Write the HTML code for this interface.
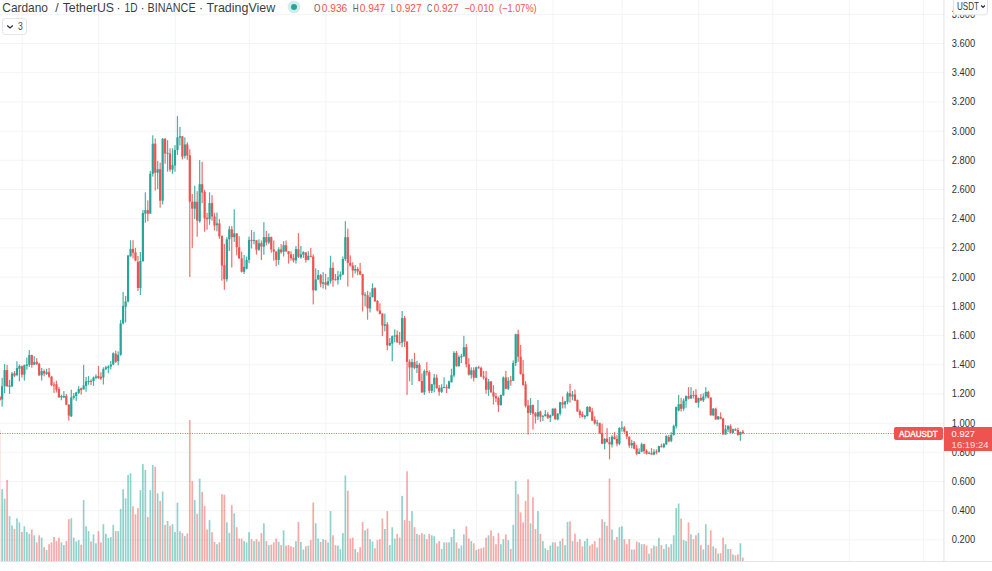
<!DOCTYPE html><html><head><meta charset="utf-8"><title>ADAUSDT</title>
<style>html,body{margin:0;padding:0;background:#fff;overflow:hidden}svg{display:block}text{font-family:"Liberation Sans",sans-serif}</style></head><body>
<svg width="992" height="571" viewBox="0 0 992 571">
<rect width="992" height="571" fill="#fff"/>
<g stroke="#f3f4f5" stroke-width="1" shape-rendering="crispEdges">
<line x1="22.20" y1="0" x2="22.20" y2="561" shape-rendering="auto"/>
<line x1="98.74" y1="0" x2="98.74" y2="561" shape-rendering="auto"/>
<line x1="175.28" y1="0" x2="175.28" y2="561" shape-rendering="auto"/>
<line x1="249.35" y1="0" x2="249.35" y2="561" shape-rendering="auto"/>
<line x1="325.89" y1="0" x2="325.89" y2="561" shape-rendering="auto"/>
<line x1="399.96" y1="0" x2="399.96" y2="561" shape-rendering="auto"/>
<line x1="476.50" y1="0" x2="476.50" y2="561" shape-rendering="auto"/>
<line x1="553.03" y1="0" x2="553.03" y2="561" shape-rendering="auto"/>
<line x1="622.17" y1="0" x2="622.17" y2="561" shape-rendering="auto"/>
<line x1="698.71" y1="0" x2="698.71" y2="561" shape-rendering="auto"/>
<line x1="772.78" y1="0" x2="772.78" y2="561" shape-rendering="auto"/>
<line x1="849.31" y1="0" x2="849.31" y2="561" shape-rendering="auto"/>
<line x1="923.38" y1="0" x2="923.38" y2="561" shape-rendering="auto"/>
<line x1="0" y1="539.90" x2="944" y2="539.90" shape-rendering="auto"/>
<line x1="0" y1="510.70" x2="944" y2="510.70" shape-rendering="auto"/>
<line x1="0" y1="481.50" x2="944" y2="481.50" shape-rendering="auto"/>
<line x1="0" y1="452.30" x2="944" y2="452.30" shape-rendering="auto"/>
<line x1="0" y1="423.10" x2="944" y2="423.10" shape-rendering="auto"/>
<line x1="0" y1="393.90" x2="944" y2="393.90" shape-rendering="auto"/>
<line x1="0" y1="364.70" x2="944" y2="364.70" shape-rendering="auto"/>
<line x1="0" y1="335.50" x2="944" y2="335.50" shape-rendering="auto"/>
<line x1="0" y1="306.30" x2="944" y2="306.30" shape-rendering="auto"/>
<line x1="0" y1="277.10" x2="944" y2="277.10" shape-rendering="auto"/>
<line x1="0" y1="247.90" x2="944" y2="247.90" shape-rendering="auto"/>
<line x1="0" y1="218.70" x2="944" y2="218.70" shape-rendering="auto"/>
<line x1="0" y1="189.50" x2="944" y2="189.50" shape-rendering="auto"/>
<line x1="0" y1="160.30" x2="944" y2="160.30" shape-rendering="auto"/>
<line x1="0" y1="131.10" x2="944" y2="131.10" shape-rendering="auto"/>
<line x1="0" y1="101.90" x2="944" y2="101.90" shape-rendering="auto"/>
<line x1="0" y1="72.70" x2="944" y2="72.70" shape-rendering="auto"/>
<line x1="0" y1="43.50" x2="944" y2="43.50" shape-rendering="auto"/>
<line x1="0" y1="14.30" x2="944" y2="14.30" shape-rendering="auto"/>
</g>
<g id="vol" shape-rendering="auto">
<rect x="-1.17" y="430.0" width="1.7" height="131.4" fill="#ef5350" opacity="0.25"/>
<rect x="1.30" y="489.2" width="1.7" height="72.2" fill="#26a69a" opacity="0.5"/>
<rect x="3.77" y="498.6" width="1.7" height="62.8" fill="#26a69a" opacity="0.5"/>
<rect x="6.24" y="479.9" width="1.7" height="81.5" fill="#ef5350" opacity="0.5"/>
<rect x="8.71" y="516.1" width="1.7" height="45.3" fill="#26a69a" opacity="0.5"/>
<rect x="11.17" y="525.4" width="1.7" height="36.0" fill="#26a69a" opacity="0.5"/>
<rect x="13.64" y="529.0" width="1.7" height="32.4" fill="#ef5350" opacity="0.5"/>
<rect x="16.11" y="518.3" width="1.7" height="43.1" fill="#26a69a" opacity="0.5"/>
<rect x="18.58" y="522.4" width="1.7" height="39.0" fill="#26a69a" opacity="0.5"/>
<rect x="21.05" y="532.0" width="1.7" height="29.4" fill="#ef5350" opacity="0.5"/>
<rect x="23.52" y="526.3" width="1.7" height="35.1" fill="#26a69a" opacity="0.5"/>
<rect x="25.99" y="532.0" width="1.7" height="29.4" fill="#26a69a" opacity="0.5"/>
<rect x="28.46" y="533.8" width="1.7" height="27.6" fill="#26a69a" opacity="0.5"/>
<rect x="30.93" y="529.5" width="1.7" height="31.9" fill="#ef5350" opacity="0.5"/>
<rect x="33.39" y="535.3" width="1.7" height="26.1" fill="#26a69a" opacity="0.5"/>
<rect x="35.86" y="542.4" width="1.7" height="19.0" fill="#ef5350" opacity="0.5"/>
<rect x="38.33" y="535.3" width="1.7" height="26.1" fill="#ef5350" opacity="0.5"/>
<rect x="40.80" y="537.6" width="1.7" height="23.8" fill="#26a69a" opacity="0.5"/>
<rect x="43.27" y="547.2" width="1.7" height="14.2" fill="#ef5350" opacity="0.5"/>
<rect x="45.74" y="550.1" width="1.7" height="11.3" fill="#26a69a" opacity="0.5"/>
<rect x="48.21" y="544.2" width="1.7" height="17.2" fill="#ef5350" opacity="0.5"/>
<rect x="50.68" y="542.4" width="1.7" height="19.0" fill="#ef5350" opacity="0.5"/>
<rect x="53.15" y="537.0" width="1.7" height="24.4" fill="#ef5350" opacity="0.5"/>
<rect x="55.62" y="541.1" width="1.7" height="20.3" fill="#ef5350" opacity="0.5"/>
<rect x="58.08" y="537.6" width="1.7" height="23.8" fill="#ef5350" opacity="0.5"/>
<rect x="60.55" y="542.4" width="1.7" height="19.0" fill="#26a69a" opacity="0.5"/>
<rect x="63.02" y="545.1" width="1.7" height="16.3" fill="#26a69a" opacity="0.5"/>
<rect x="65.49" y="541.0" width="1.7" height="20.4" fill="#ef5350" opacity="0.5"/>
<rect x="67.96" y="519.2" width="1.7" height="42.2" fill="#ef5350" opacity="0.5"/>
<rect x="70.43" y="518.3" width="1.7" height="43.1" fill="#26a69a" opacity="0.5"/>
<rect x="72.90" y="537.6" width="1.7" height="23.8" fill="#26a69a" opacity="0.5"/>
<rect x="75.37" y="541.5" width="1.7" height="19.9" fill="#26a69a" opacity="0.5"/>
<rect x="77.84" y="540.1" width="1.7" height="21.3" fill="#26a69a" opacity="0.5"/>
<rect x="80.31" y="544.7" width="1.7" height="16.7" fill="#ef5350" opacity="0.5"/>
<rect x="82.78" y="500.1" width="1.7" height="61.3" fill="#26a69a" opacity="0.5"/>
<rect x="85.24" y="526.3" width="1.7" height="35.1" fill="#26a69a" opacity="0.5"/>
<rect x="87.71" y="531.1" width="1.7" height="30.3" fill="#26a69a" opacity="0.5"/>
<rect x="90.18" y="541.5" width="1.7" height="19.9" fill="#ef5350" opacity="0.5"/>
<rect x="92.65" y="534.4" width="1.7" height="27.0" fill="#26a69a" opacity="0.5"/>
<rect x="95.12" y="543.3" width="1.7" height="18.1" fill="#26a69a" opacity="0.5"/>
<rect x="97.59" y="531.1" width="1.7" height="30.3" fill="#ef5350" opacity="0.5"/>
<rect x="100.06" y="542.4" width="1.7" height="19.0" fill="#ef5350" opacity="0.5"/>
<rect x="102.53" y="524.2" width="1.7" height="37.2" fill="#26a69a" opacity="0.5"/>
<rect x="105.00" y="533.8" width="1.7" height="27.6" fill="#26a69a" opacity="0.5"/>
<rect x="107.47" y="537.9" width="1.7" height="23.5" fill="#26a69a" opacity="0.5"/>
<rect x="109.93" y="537.0" width="1.7" height="24.4" fill="#26a69a" opacity="0.5"/>
<rect x="112.40" y="524.9" width="1.7" height="36.5" fill="#26a69a" opacity="0.5"/>
<rect x="114.87" y="531.1" width="1.7" height="30.3" fill="#ef5350" opacity="0.5"/>
<rect x="117.34" y="531.1" width="1.7" height="30.3" fill="#26a69a" opacity="0.5"/>
<rect x="119.81" y="509.0" width="1.7" height="52.4" fill="#26a69a" opacity="0.5"/>
<rect x="122.28" y="489.2" width="1.7" height="72.2" fill="#26a69a" opacity="0.5"/>
<rect x="124.75" y="498.3" width="1.7" height="63.1" fill="#26a69a" opacity="0.5"/>
<rect x="127.22" y="474.9" width="1.7" height="86.5" fill="#26a69a" opacity="0.5"/>
<rect x="129.69" y="473.3" width="1.7" height="88.1" fill="#26a69a" opacity="0.5"/>
<rect x="132.16" y="506.3" width="1.7" height="55.1" fill="#ef5350" opacity="0.5"/>
<rect x="134.62" y="514.3" width="1.7" height="47.1" fill="#ef5350" opacity="0.5"/>
<rect x="137.09" y="508.1" width="1.7" height="53.3" fill="#ef5350" opacity="0.5"/>
<rect x="139.56" y="490.1" width="1.7" height="71.3" fill="#26a69a" opacity="0.5"/>
<rect x="142.03" y="464.1" width="1.7" height="97.3" fill="#26a69a" opacity="0.5"/>
<rect x="144.50" y="470.0" width="1.7" height="91.4" fill="#26a69a" opacity="0.5"/>
<rect x="146.97" y="517.0" width="1.7" height="44.4" fill="#ef5350" opacity="0.5"/>
<rect x="149.44" y="490.1" width="1.7" height="71.3" fill="#26a69a" opacity="0.5"/>
<rect x="151.91" y="465.0" width="1.7" height="96.4" fill="#26a69a" opacity="0.5"/>
<rect x="154.38" y="466.8" width="1.7" height="94.6" fill="#ef5350" opacity="0.5"/>
<rect x="156.84" y="493.3" width="1.7" height="68.1" fill="#26a69a" opacity="0.5"/>
<rect x="159.31" y="500.9" width="1.7" height="60.5" fill="#ef5350" opacity="0.5"/>
<rect x="161.78" y="491.5" width="1.7" height="69.9" fill="#26a69a" opacity="0.5"/>
<rect x="164.25" y="524.9" width="1.7" height="36.5" fill="#ef5350" opacity="0.5"/>
<rect x="166.72" y="521.0" width="1.7" height="40.4" fill="#26a69a" opacity="0.5"/>
<rect x="169.19" y="525.8" width="1.7" height="35.6" fill="#ef5350" opacity="0.5"/>
<rect x="171.66" y="524.2" width="1.7" height="37.2" fill="#26a69a" opacity="0.5"/>
<rect x="174.13" y="532.0" width="1.7" height="29.4" fill="#26a69a" opacity="0.5"/>
<rect x="176.60" y="502.7" width="1.7" height="58.7" fill="#26a69a" opacity="0.5"/>
<rect x="179.07" y="531.3" width="1.7" height="30.1" fill="#26a69a" opacity="0.5"/>
<rect x="181.53" y="533.1" width="1.7" height="28.3" fill="#ef5350" opacity="0.5"/>
<rect x="184.00" y="536.1" width="1.7" height="25.3" fill="#26a69a" opacity="0.5"/>
<rect x="186.47" y="533.5" width="1.7" height="27.9" fill="#ef5350" opacity="0.5"/>
<rect x="188.94" y="420.0" width="1.7" height="141.4" fill="#ef5350" opacity="0.5"/>
<rect x="191.41" y="481.1" width="1.7" height="80.3" fill="#ef5350" opacity="0.5"/>
<rect x="193.88" y="500.1" width="1.7" height="61.3" fill="#26a69a" opacity="0.5"/>
<rect x="196.35" y="513.8" width="1.7" height="47.6" fill="#ef5350" opacity="0.5"/>
<rect x="198.82" y="478.6" width="1.7" height="82.8" fill="#26a69a" opacity="0.5"/>
<rect x="201.29" y="492.0" width="1.7" height="69.4" fill="#ef5350" opacity="0.5"/>
<rect x="203.76" y="505.8" width="1.7" height="55.6" fill="#ef5350" opacity="0.5"/>
<rect x="206.22" y="529.5" width="1.7" height="31.9" fill="#ef5350" opacity="0.5"/>
<rect x="208.69" y="520.1" width="1.7" height="41.3" fill="#26a69a" opacity="0.5"/>
<rect x="211.16" y="532.2" width="1.7" height="29.2" fill="#ef5350" opacity="0.5"/>
<rect x="213.63" y="541.9" width="1.7" height="19.5" fill="#ef5350" opacity="0.5"/>
<rect x="216.10" y="544.2" width="1.7" height="17.2" fill="#26a69a" opacity="0.5"/>
<rect x="218.57" y="542.4" width="1.7" height="19.0" fill="#ef5350" opacity="0.5"/>
<rect x="221.04" y="494.2" width="1.7" height="67.2" fill="#ef5350" opacity="0.5"/>
<rect x="223.51" y="494.7" width="1.7" height="66.7" fill="#ef5350" opacity="0.5"/>
<rect x="225.98" y="522.4" width="1.7" height="39.0" fill="#26a69a" opacity="0.5"/>
<rect x="228.45" y="532.9" width="1.7" height="28.5" fill="#26a69a" opacity="0.5"/>
<rect x="230.91" y="505.2" width="1.7" height="56.2" fill="#ef5350" opacity="0.5"/>
<rect x="233.38" y="513.3" width="1.7" height="48.1" fill="#26a69a" opacity="0.5"/>
<rect x="235.85" y="527.2" width="1.7" height="34.2" fill="#ef5350" opacity="0.5"/>
<rect x="238.32" y="538.5" width="1.7" height="22.9" fill="#ef5350" opacity="0.5"/>
<rect x="240.79" y="538.5" width="1.7" height="22.9" fill="#ef5350" opacity="0.5"/>
<rect x="243.26" y="541.1" width="1.7" height="20.3" fill="#26a69a" opacity="0.5"/>
<rect x="245.73" y="542.4" width="1.7" height="19.0" fill="#26a69a" opacity="0.5"/>
<rect x="248.20" y="532.2" width="1.7" height="29.2" fill="#26a69a" opacity="0.5"/>
<rect x="250.67" y="539.2" width="1.7" height="22.2" fill="#ef5350" opacity="0.5"/>
<rect x="253.14" y="541.1" width="1.7" height="20.3" fill="#26a69a" opacity="0.5"/>
<rect x="255.60" y="539.2" width="1.7" height="22.2" fill="#ef5350" opacity="0.5"/>
<rect x="258.07" y="541.5" width="1.7" height="19.9" fill="#26a69a" opacity="0.5"/>
<rect x="260.54" y="533.1" width="1.7" height="28.3" fill="#ef5350" opacity="0.5"/>
<rect x="263.01" y="523.3" width="1.7" height="38.1" fill="#26a69a" opacity="0.5"/>
<rect x="265.48" y="541.1" width="1.7" height="20.3" fill="#ef5350" opacity="0.5"/>
<rect x="267.95" y="545.1" width="1.7" height="16.3" fill="#26a69a" opacity="0.5"/>
<rect x="270.42" y="544.7" width="1.7" height="16.7" fill="#ef5350" opacity="0.5"/>
<rect x="272.89" y="542.4" width="1.7" height="19.0" fill="#ef5350" opacity="0.5"/>
<rect x="275.36" y="538.5" width="1.7" height="22.9" fill="#ef5350" opacity="0.5"/>
<rect x="277.83" y="541.9" width="1.7" height="19.5" fill="#26a69a" opacity="0.5"/>
<rect x="280.29" y="545.1" width="1.7" height="16.3" fill="#ef5350" opacity="0.5"/>
<rect x="282.76" y="530.3" width="1.7" height="31.1" fill="#26a69a" opacity="0.5"/>
<rect x="285.23" y="545.6" width="1.7" height="15.8" fill="#ef5350" opacity="0.5"/>
<rect x="287.70" y="545.1" width="1.7" height="16.3" fill="#ef5350" opacity="0.5"/>
<rect x="290.17" y="546.3" width="1.7" height="15.1" fill="#ef5350" opacity="0.5"/>
<rect x="292.64" y="547.2" width="1.7" height="14.2" fill="#ef5350" opacity="0.5"/>
<rect x="295.11" y="541.1" width="1.7" height="20.3" fill="#26a69a" opacity="0.5"/>
<rect x="297.58" y="521.9" width="1.7" height="39.5" fill="#ef5350" opacity="0.5"/>
<rect x="300.05" y="541.9" width="1.7" height="19.5" fill="#26a69a" opacity="0.5"/>
<rect x="302.52" y="549.5" width="1.7" height="11.9" fill="#26a69a" opacity="0.5"/>
<rect x="304.98" y="546.3" width="1.7" height="15.1" fill="#ef5350" opacity="0.5"/>
<rect x="307.45" y="545.6" width="1.7" height="15.8" fill="#26a69a" opacity="0.5"/>
<rect x="309.92" y="540.1" width="1.7" height="21.3" fill="#ef5350" opacity="0.5"/>
<rect x="312.39" y="502.6" width="1.7" height="58.8" fill="#ef5350" opacity="0.5"/>
<rect x="314.86" y="523.3" width="1.7" height="38.1" fill="#26a69a" opacity="0.5"/>
<rect x="317.33" y="538.5" width="1.7" height="22.9" fill="#26a69a" opacity="0.5"/>
<rect x="319.80" y="542.0" width="1.7" height="19.4" fill="#ef5350" opacity="0.5"/>
<rect x="322.27" y="539.2" width="1.7" height="22.2" fill="#26a69a" opacity="0.5"/>
<rect x="324.74" y="540.1" width="1.7" height="21.3" fill="#ef5350" opacity="0.5"/>
<rect x="327.21" y="542.4" width="1.7" height="19.0" fill="#26a69a" opacity="0.5"/>
<rect x="329.67" y="511.1" width="1.7" height="50.3" fill="#26a69a" opacity="0.5"/>
<rect x="332.14" y="535.3" width="1.7" height="26.1" fill="#ef5350" opacity="0.5"/>
<rect x="334.61" y="545.1" width="1.7" height="16.3" fill="#ef5350" opacity="0.5"/>
<rect x="337.08" y="545.6" width="1.7" height="15.8" fill="#26a69a" opacity="0.5"/>
<rect x="339.55" y="549.2" width="1.7" height="12.2" fill="#26a69a" opacity="0.5"/>
<rect x="342.02" y="533.1" width="1.7" height="28.3" fill="#26a69a" opacity="0.5"/>
<rect x="344.49" y="475.4" width="1.7" height="86.0" fill="#26a69a" opacity="0.5"/>
<rect x="346.96" y="490.6" width="1.7" height="70.8" fill="#ef5350" opacity="0.5"/>
<rect x="349.43" y="538.5" width="1.7" height="22.9" fill="#ef5350" opacity="0.5"/>
<rect x="351.90" y="537.6" width="1.7" height="23.8" fill="#ef5350" opacity="0.5"/>
<rect x="354.36" y="549.0" width="1.7" height="12.4" fill="#26a69a" opacity="0.5"/>
<rect x="356.83" y="552.2" width="1.7" height="9.2" fill="#ef5350" opacity="0.5"/>
<rect x="359.30" y="547.2" width="1.7" height="14.2" fill="#ef5350" opacity="0.5"/>
<rect x="361.77" y="521.9" width="1.7" height="39.5" fill="#ef5350" opacity="0.5"/>
<rect x="364.24" y="530.3" width="1.7" height="31.1" fill="#26a69a" opacity="0.5"/>
<rect x="366.71" y="528.5" width="1.7" height="32.9" fill="#ef5350" opacity="0.5"/>
<rect x="369.18" y="539.2" width="1.7" height="22.2" fill="#26a69a" opacity="0.5"/>
<rect x="371.65" y="541.5" width="1.7" height="19.9" fill="#26a69a" opacity="0.5"/>
<rect x="374.12" y="548.3" width="1.7" height="13.1" fill="#ef5350" opacity="0.5"/>
<rect x="376.59" y="540.1" width="1.7" height="21.3" fill="#ef5350" opacity="0.5"/>
<rect x="379.05" y="539.2" width="1.7" height="22.2" fill="#ef5350" opacity="0.5"/>
<rect x="381.52" y="518.6" width="1.7" height="42.8" fill="#ef5350" opacity="0.5"/>
<rect x="383.99" y="529.0" width="1.7" height="32.4" fill="#26a69a" opacity="0.5"/>
<rect x="386.46" y="511.1" width="1.7" height="50.3" fill="#ef5350" opacity="0.5"/>
<rect x="388.93" y="545.1" width="1.7" height="16.3" fill="#26a69a" opacity="0.5"/>
<rect x="391.40" y="527.2" width="1.7" height="34.2" fill="#26a69a" opacity="0.5"/>
<rect x="393.87" y="538.5" width="1.7" height="22.9" fill="#26a69a" opacity="0.5"/>
<rect x="396.34" y="533.8" width="1.7" height="27.6" fill="#ef5350" opacity="0.5"/>
<rect x="398.81" y="537.6" width="1.7" height="23.8" fill="#ef5350" opacity="0.5"/>
<rect x="401.28" y="495.9" width="1.7" height="65.5" fill="#26a69a" opacity="0.5"/>
<rect x="403.74" y="520.1" width="1.7" height="41.3" fill="#ef5350" opacity="0.5"/>
<rect x="406.21" y="471.3" width="1.7" height="90.1" fill="#ef5350" opacity="0.5"/>
<rect x="408.68" y="521.0" width="1.7" height="40.4" fill="#ef5350" opacity="0.5"/>
<rect x="411.15" y="511.1" width="1.7" height="50.3" fill="#26a69a" opacity="0.5"/>
<rect x="413.62" y="527.2" width="1.7" height="34.2" fill="#ef5350" opacity="0.5"/>
<rect x="416.09" y="533.8" width="1.7" height="27.6" fill="#26a69a" opacity="0.5"/>
<rect x="418.56" y="534.9" width="1.7" height="26.5" fill="#ef5350" opacity="0.5"/>
<rect x="421.03" y="533.1" width="1.7" height="28.3" fill="#ef5350" opacity="0.5"/>
<rect x="423.50" y="534.4" width="1.7" height="27.0" fill="#26a69a" opacity="0.5"/>
<rect x="425.97" y="539.2" width="1.7" height="22.2" fill="#ef5350" opacity="0.5"/>
<rect x="428.43" y="533.8" width="1.7" height="27.6" fill="#ef5350" opacity="0.5"/>
<rect x="430.90" y="535.3" width="1.7" height="26.1" fill="#26a69a" opacity="0.5"/>
<rect x="433.37" y="536.1" width="1.7" height="25.3" fill="#26a69a" opacity="0.5"/>
<rect x="435.84" y="543.3" width="1.7" height="18.1" fill="#ef5350" opacity="0.5"/>
<rect x="438.31" y="541.1" width="1.7" height="20.3" fill="#ef5350" opacity="0.5"/>
<rect x="440.78" y="549.0" width="1.7" height="12.4" fill="#26a69a" opacity="0.5"/>
<rect x="443.25" y="542.4" width="1.7" height="19.0" fill="#26a69a" opacity="0.5"/>
<rect x="445.72" y="542.4" width="1.7" height="19.0" fill="#ef5350" opacity="0.5"/>
<rect x="448.19" y="542.4" width="1.7" height="19.0" fill="#26a69a" opacity="0.5"/>
<rect x="450.66" y="537.0" width="1.7" height="24.4" fill="#26a69a" opacity="0.5"/>
<rect x="453.12" y="529.0" width="1.7" height="32.4" fill="#26a69a" opacity="0.5"/>
<rect x="455.59" y="542.4" width="1.7" height="19.0" fill="#ef5350" opacity="0.5"/>
<rect x="458.06" y="548.3" width="1.7" height="13.1" fill="#26a69a" opacity="0.5"/>
<rect x="460.53" y="545.6" width="1.7" height="15.8" fill="#26a69a" opacity="0.5"/>
<rect x="463.00" y="534.4" width="1.7" height="27.0" fill="#26a69a" opacity="0.5"/>
<rect x="465.47" y="526.3" width="1.7" height="35.1" fill="#ef5350" opacity="0.5"/>
<rect x="467.94" y="538.5" width="1.7" height="22.9" fill="#ef5350" opacity="0.5"/>
<rect x="470.41" y="541.1" width="1.7" height="20.3" fill="#26a69a" opacity="0.5"/>
<rect x="472.88" y="543.3" width="1.7" height="18.1" fill="#ef5350" opacity="0.5"/>
<rect x="475.35" y="550.1" width="1.7" height="11.3" fill="#26a69a" opacity="0.5"/>
<rect x="477.81" y="549.0" width="1.7" height="12.4" fill="#ef5350" opacity="0.5"/>
<rect x="480.28" y="548.3" width="1.7" height="13.1" fill="#ef5350" opacity="0.5"/>
<rect x="482.75" y="547.4" width="1.7" height="14.0" fill="#ef5350" opacity="0.5"/>
<rect x="485.22" y="537.6" width="1.7" height="23.8" fill="#ef5350" opacity="0.5"/>
<rect x="487.69" y="535.3" width="1.7" height="26.1" fill="#26a69a" opacity="0.5"/>
<rect x="490.16" y="530.4" width="1.7" height="31.0" fill="#ef5350" opacity="0.5"/>
<rect x="492.63" y="536.1" width="1.7" height="25.3" fill="#ef5350" opacity="0.5"/>
<rect x="495.10" y="544.2" width="1.7" height="17.2" fill="#ef5350" opacity="0.5"/>
<rect x="497.57" y="533.1" width="1.7" height="28.3" fill="#ef5350" opacity="0.5"/>
<rect x="500.04" y="544.2" width="1.7" height="17.2" fill="#26a69a" opacity="0.5"/>
<rect x="502.50" y="539.2" width="1.7" height="22.2" fill="#26a69a" opacity="0.5"/>
<rect x="504.97" y="534.4" width="1.7" height="27.0" fill="#ef5350" opacity="0.5"/>
<rect x="507.44" y="540.1" width="1.7" height="21.3" fill="#26a69a" opacity="0.5"/>
<rect x="509.91" y="549.0" width="1.7" height="12.4" fill="#ef5350" opacity="0.5"/>
<rect x="512.38" y="524.9" width="1.7" height="36.5" fill="#26a69a" opacity="0.5"/>
<rect x="514.85" y="481.1" width="1.7" height="80.3" fill="#26a69a" opacity="0.5"/>
<rect x="517.32" y="494.2" width="1.7" height="67.2" fill="#ef5350" opacity="0.5"/>
<rect x="519.79" y="512.4" width="1.7" height="49.0" fill="#ef5350" opacity="0.5"/>
<rect x="522.26" y="522.4" width="1.7" height="39.0" fill="#ef5350" opacity="0.5"/>
<rect x="524.73" y="500.9" width="1.7" height="60.5" fill="#ef5350" opacity="0.5"/>
<rect x="527.19" y="479.3" width="1.7" height="82.1" fill="#ef5350" opacity="0.5"/>
<rect x="529.66" y="523.3" width="1.7" height="38.1" fill="#26a69a" opacity="0.5"/>
<rect x="532.13" y="497.2" width="1.7" height="64.2" fill="#ef5350" opacity="0.5"/>
<rect x="534.60" y="529.0" width="1.7" height="32.4" fill="#ef5350" opacity="0.5"/>
<rect x="537.07" y="511.1" width="1.7" height="50.3" fill="#26a69a" opacity="0.5"/>
<rect x="539.54" y="533.8" width="1.7" height="27.6" fill="#ef5350" opacity="0.5"/>
<rect x="542.01" y="541.1" width="1.7" height="20.3" fill="#26a69a" opacity="0.5"/>
<rect x="544.48" y="548.3" width="1.7" height="13.1" fill="#26a69a" opacity="0.5"/>
<rect x="546.95" y="550.1" width="1.7" height="11.3" fill="#ef5350" opacity="0.5"/>
<rect x="549.42" y="545.6" width="1.7" height="15.8" fill="#26a69a" opacity="0.5"/>
<rect x="551.88" y="542.4" width="1.7" height="19.0" fill="#26a69a" opacity="0.5"/>
<rect x="554.35" y="542.4" width="1.7" height="19.0" fill="#ef5350" opacity="0.5"/>
<rect x="556.82" y="546.3" width="1.7" height="15.1" fill="#26a69a" opacity="0.5"/>
<rect x="559.29" y="541.1" width="1.7" height="20.3" fill="#26a69a" opacity="0.5"/>
<rect x="561.76" y="538.5" width="1.7" height="22.9" fill="#ef5350" opacity="0.5"/>
<rect x="564.23" y="545.1" width="1.7" height="16.3" fill="#26a69a" opacity="0.5"/>
<rect x="566.70" y="521.9" width="1.7" height="39.5" fill="#26a69a" opacity="0.5"/>
<rect x="569.17" y="521.3" width="1.7" height="40.1" fill="#ef5350" opacity="0.5"/>
<rect x="571.64" y="541.1" width="1.7" height="20.3" fill="#26a69a" opacity="0.5"/>
<rect x="574.11" y="533.8" width="1.7" height="27.6" fill="#ef5350" opacity="0.5"/>
<rect x="576.57" y="541.9" width="1.7" height="19.5" fill="#ef5350" opacity="0.5"/>
<rect x="579.04" y="539.2" width="1.7" height="22.2" fill="#ef5350" opacity="0.5"/>
<rect x="581.51" y="546.3" width="1.7" height="15.1" fill="#ef5350" opacity="0.5"/>
<rect x="583.98" y="541.1" width="1.7" height="20.3" fill="#26a69a" opacity="0.5"/>
<rect x="586.45" y="538.5" width="1.7" height="22.9" fill="#26a69a" opacity="0.5"/>
<rect x="588.92" y="545.6" width="1.7" height="15.8" fill="#ef5350" opacity="0.5"/>
<rect x="591.39" y="544.2" width="1.7" height="17.2" fill="#ef5350" opacity="0.5"/>
<rect x="593.86" y="541.1" width="1.7" height="20.3" fill="#ef5350" opacity="0.5"/>
<rect x="596.33" y="547.4" width="1.7" height="14.0" fill="#26a69a" opacity="0.5"/>
<rect x="598.80" y="537.9" width="1.7" height="23.5" fill="#ef5350" opacity="0.5"/>
<rect x="601.26" y="519.2" width="1.7" height="42.2" fill="#ef5350" opacity="0.5"/>
<rect x="603.73" y="521.9" width="1.7" height="39.5" fill="#26a69a" opacity="0.5"/>
<rect x="606.20" y="525.8" width="1.7" height="35.6" fill="#ef5350" opacity="0.5"/>
<rect x="608.67" y="478.6" width="1.7" height="82.8" fill="#ef5350" opacity="0.5"/>
<rect x="611.14" y="529.5" width="1.7" height="31.9" fill="#26a69a" opacity="0.5"/>
<rect x="613.61" y="540.1" width="1.7" height="21.3" fill="#ef5350" opacity="0.5"/>
<rect x="616.08" y="537.0" width="1.7" height="24.4" fill="#ef5350" opacity="0.5"/>
<rect x="618.55" y="527.2" width="1.7" height="34.2" fill="#26a69a" opacity="0.5"/>
<rect x="621.02" y="526.3" width="1.7" height="35.1" fill="#26a69a" opacity="0.5"/>
<rect x="623.49" y="539.2" width="1.7" height="22.2" fill="#ef5350" opacity="0.5"/>
<rect x="625.95" y="544.2" width="1.7" height="17.2" fill="#ef5350" opacity="0.5"/>
<rect x="628.42" y="539.2" width="1.7" height="22.2" fill="#ef5350" opacity="0.5"/>
<rect x="630.89" y="549.5" width="1.7" height="11.9" fill="#26a69a" opacity="0.5"/>
<rect x="633.36" y="549.5" width="1.7" height="11.9" fill="#ef5350" opacity="0.5"/>
<rect x="635.83" y="541.5" width="1.7" height="19.9" fill="#ef5350" opacity="0.5"/>
<rect x="638.30" y="542.4" width="1.7" height="19.0" fill="#26a69a" opacity="0.5"/>
<rect x="640.77" y="544.2" width="1.7" height="17.2" fill="#26a69a" opacity="0.5"/>
<rect x="643.24" y="544.2" width="1.7" height="17.2" fill="#ef5350" opacity="0.5"/>
<rect x="645.71" y="545.6" width="1.7" height="15.8" fill="#ef5350" opacity="0.5"/>
<rect x="648.18" y="553.7" width="1.7" height="7.7" fill="#26a69a" opacity="0.5"/>
<rect x="650.64" y="548.3" width="1.7" height="13.1" fill="#ef5350" opacity="0.5"/>
<rect x="653.11" y="545.6" width="1.7" height="15.8" fill="#26a69a" opacity="0.5"/>
<rect x="655.58" y="546.3" width="1.7" height="15.1" fill="#ef5350" opacity="0.5"/>
<rect x="658.05" y="537.9" width="1.7" height="23.5" fill="#26a69a" opacity="0.5"/>
<rect x="660.52" y="545.1" width="1.7" height="16.3" fill="#ef5350" opacity="0.5"/>
<rect x="662.99" y="549.0" width="1.7" height="12.4" fill="#26a69a" opacity="0.5"/>
<rect x="665.46" y="544.2" width="1.7" height="17.2" fill="#26a69a" opacity="0.5"/>
<rect x="667.93" y="547.2" width="1.7" height="14.2" fill="#ef5350" opacity="0.5"/>
<rect x="670.40" y="544.2" width="1.7" height="17.2" fill="#26a69a" opacity="0.5"/>
<rect x="672.87" y="535.3" width="1.7" height="26.1" fill="#26a69a" opacity="0.5"/>
<rect x="675.33" y="508.1" width="1.7" height="53.3" fill="#26a69a" opacity="0.5"/>
<rect x="677.80" y="503.5" width="1.7" height="57.9" fill="#26a69a" opacity="0.5"/>
<rect x="680.27" y="518.6" width="1.7" height="42.8" fill="#ef5350" opacity="0.5"/>
<rect x="682.74" y="540.1" width="1.7" height="21.3" fill="#26a69a" opacity="0.5"/>
<rect x="685.21" y="541.1" width="1.7" height="20.3" fill="#26a69a" opacity="0.5"/>
<rect x="687.68" y="522.4" width="1.7" height="39.0" fill="#ef5350" opacity="0.5"/>
<rect x="690.15" y="534.4" width="1.7" height="27.0" fill="#26a69a" opacity="0.5"/>
<rect x="692.62" y="539.2" width="1.7" height="22.2" fill="#ef5350" opacity="0.5"/>
<rect x="695.09" y="535.3" width="1.7" height="26.1" fill="#ef5350" opacity="0.5"/>
<rect x="697.56" y="533.1" width="1.7" height="28.3" fill="#26a69a" opacity="0.5"/>
<rect x="700.02" y="545.1" width="1.7" height="16.3" fill="#ef5350" opacity="0.5"/>
<rect x="702.49" y="549.5" width="1.7" height="11.9" fill="#26a69a" opacity="0.5"/>
<rect x="704.96" y="524.2" width="1.7" height="37.2" fill="#26a69a" opacity="0.5"/>
<rect x="707.43" y="545.1" width="1.7" height="16.3" fill="#ef5350" opacity="0.5"/>
<rect x="709.90" y="530.3" width="1.7" height="31.1" fill="#ef5350" opacity="0.5"/>
<rect x="712.37" y="546.3" width="1.7" height="15.1" fill="#26a69a" opacity="0.5"/>
<rect x="714.84" y="548.3" width="1.7" height="13.1" fill="#ef5350" opacity="0.5"/>
<rect x="717.31" y="553.7" width="1.7" height="7.7" fill="#26a69a" opacity="0.5"/>
<rect x="719.78" y="553.1" width="1.7" height="8.3" fill="#ef5350" opacity="0.5"/>
<rect x="722.25" y="537.6" width="1.7" height="23.8" fill="#ef5350" opacity="0.5"/>
<rect x="724.71" y="544.2" width="1.7" height="17.2" fill="#26a69a" opacity="0.5"/>
<rect x="727.18" y="549.0" width="1.7" height="12.4" fill="#26a69a" opacity="0.5"/>
<rect x="729.65" y="549.0" width="1.7" height="12.4" fill="#ef5350" opacity="0.5"/>
<rect x="732.12" y="554.4" width="1.7" height="7.0" fill="#26a69a" opacity="0.5"/>
<rect x="734.59" y="555.3" width="1.7" height="6.1" fill="#ef5350" opacity="0.5"/>
<rect x="737.06" y="554.4" width="1.7" height="7.0" fill="#ef5350" opacity="0.5"/>
<rect x="739.53" y="543.3" width="1.7" height="18.1" fill="#26a69a" opacity="0.5"/>
<rect x="742.00" y="557.6" width="1.7" height="3.8" fill="#ef5350" opacity="0.5"/>
</g>
<g id="candles">
<rect x="-0.92" y="396.0" width="1.2" height="4.9" fill="#ef5350" opacity="0.85"/>
<rect x="-1.42" y="396.7" width="2.2" height="3.5" fill="#ef5350"/>
<rect x="1.55" y="377.8" width="1.2" height="28.7" fill="#26a69a" opacity="0.85"/>
<rect x="1.05" y="386.2" width="2.2" height="13.3" fill="#26a69a"/>
<rect x="4.02" y="364.1" width="1.2" height="29.1" fill="#26a69a" opacity="0.85"/>
<rect x="3.52" y="370.1" width="2.2" height="16.1" fill="#26a69a"/>
<rect x="6.49" y="364.9" width="1.2" height="22.0" fill="#ef5350" opacity="0.85"/>
<rect x="5.99" y="370.1" width="2.2" height="16.1" fill="#ef5350"/>
<rect x="8.96" y="379.9" width="1.2" height="14.0" fill="#26a69a" opacity="0.85"/>
<rect x="8.46" y="385.5" width="2.2" height="1.4" fill="#26a69a"/>
<rect x="11.42" y="371.9" width="1.2" height="15.4" fill="#26a69a" opacity="0.85"/>
<rect x="10.92" y="373.6" width="2.2" height="12.6" fill="#26a69a"/>
<rect x="13.89" y="371.1" width="1.2" height="6.0" fill="#ef5350" opacity="0.85"/>
<rect x="13.39" y="373.3" width="2.2" height="2.4" fill="#ef5350"/>
<rect x="16.36" y="361.3" width="1.2" height="14.9" fill="#26a69a" opacity="0.85"/>
<rect x="15.86" y="368.0" width="2.2" height="7.0" fill="#26a69a"/>
<rect x="18.83" y="364.5" width="1.2" height="16.8" fill="#26a69a" opacity="0.85"/>
<rect x="18.33" y="365.9" width="2.2" height="2.8" fill="#26a69a"/>
<rect x="21.30" y="365.5" width="1.2" height="12.0" fill="#ef5350" opacity="0.85"/>
<rect x="20.80" y="366.3" width="2.2" height="8.4" fill="#ef5350"/>
<rect x="23.77" y="364.5" width="1.2" height="16.1" fill="#26a69a" opacity="0.85"/>
<rect x="23.27" y="365.2" width="2.2" height="9.5" fill="#26a69a"/>
<rect x="26.24" y="357.5" width="1.2" height="12.2" fill="#26a69a" opacity="0.85"/>
<rect x="25.74" y="364.5" width="2.2" height="1.4" fill="#26a69a"/>
<rect x="28.71" y="350.1" width="1.2" height="16.8" fill="#26a69a" opacity="0.85"/>
<rect x="28.21" y="355.1" width="2.2" height="9.8" fill="#26a69a"/>
<rect x="31.18" y="354.7" width="1.2" height="13.0" fill="#ef5350" opacity="0.85"/>
<rect x="30.68" y="355.1" width="2.2" height="9.8" fill="#ef5350"/>
<rect x="33.64" y="356.1" width="1.2" height="9.1" fill="#26a69a" opacity="0.85"/>
<rect x="33.14" y="362.1" width="2.2" height="2.4" fill="#26a69a"/>
<rect x="36.11" y="358.2" width="1.2" height="6.7" fill="#ef5350" opacity="0.85"/>
<rect x="35.61" y="361.7" width="2.2" height="2.4" fill="#ef5350"/>
<rect x="38.58" y="362.7" width="1.2" height="13.2" fill="#ef5350" opacity="0.85"/>
<rect x="38.08" y="363.8" width="2.2" height="11.5" fill="#ef5350"/>
<rect x="41.05" y="368.0" width="1.2" height="12.6" fill="#26a69a" opacity="0.85"/>
<rect x="40.55" y="371.1" width="2.2" height="4.2" fill="#26a69a"/>
<rect x="43.52" y="369.4" width="1.2" height="7.0" fill="#ef5350" opacity="0.85"/>
<rect x="43.02" y="371.1" width="2.2" height="2.5" fill="#ef5350"/>
<rect x="45.99" y="368.7" width="1.2" height="6.3" fill="#26a69a" opacity="0.85"/>
<rect x="45.49" y="372.2" width="2.2" height="1.7" fill="#26a69a"/>
<rect x="48.46" y="368.0" width="1.2" height="9.8" fill="#ef5350" opacity="0.85"/>
<rect x="47.96" y="372.2" width="2.2" height="4.5" fill="#ef5350"/>
<rect x="50.93" y="375.7" width="1.2" height="10.5" fill="#ef5350" opacity="0.85"/>
<rect x="50.43" y="376.7" width="2.2" height="8.4" fill="#ef5350"/>
<rect x="53.40" y="382.0" width="1.2" height="10.9" fill="#ef5350" opacity="0.85"/>
<rect x="52.90" y="384.6" width="2.2" height="1.0" fill="#ef5350"/>
<rect x="55.87" y="380.6" width="1.2" height="11.9" fill="#ef5350" opacity="0.85"/>
<rect x="55.37" y="384.1" width="2.2" height="5.6" fill="#ef5350"/>
<rect x="58.33" y="386.9" width="1.2" height="10.8" fill="#ef5350" opacity="0.85"/>
<rect x="57.83" y="389.0" width="2.2" height="8.4" fill="#ef5350"/>
<rect x="60.80" y="394.6" width="1.2" height="5.6" fill="#26a69a" opacity="0.85"/>
<rect x="60.30" y="396.0" width="2.2" height="1.4" fill="#26a69a"/>
<rect x="63.27" y="391.1" width="1.2" height="7.0" fill="#26a69a" opacity="0.85"/>
<rect x="62.77" y="396.0" width="2.2" height="1.4" fill="#26a69a"/>
<rect x="65.74" y="393.9" width="1.2" height="11.2" fill="#ef5350" opacity="0.85"/>
<rect x="65.24" y="396.0" width="2.2" height="8.7" fill="#ef5350"/>
<rect x="68.21" y="404.2" width="1.2" height="16.4" fill="#ef5350" opacity="0.85"/>
<rect x="67.71" y="404.7" width="2.2" height="10.9" fill="#ef5350"/>
<rect x="70.68" y="389.7" width="1.2" height="27.3" fill="#26a69a" opacity="0.85"/>
<rect x="70.18" y="397.4" width="2.2" height="18.9" fill="#26a69a"/>
<rect x="73.15" y="393.0" width="1.2" height="6.6" fill="#26a69a" opacity="0.85"/>
<rect x="72.65" y="396.0" width="2.2" height="1.7" fill="#26a69a"/>
<rect x="75.62" y="391.8" width="1.2" height="9.1" fill="#26a69a" opacity="0.85"/>
<rect x="75.12" y="392.5" width="2.2" height="3.5" fill="#26a69a"/>
<rect x="78.09" y="386.2" width="1.2" height="7.7" fill="#26a69a" opacity="0.85"/>
<rect x="77.59" y="389.0" width="2.2" height="3.9" fill="#26a69a"/>
<rect x="80.56" y="387.6" width="1.2" height="7.0" fill="#ef5350" opacity="0.85"/>
<rect x="80.06" y="388.3" width="2.2" height="1.8" fill="#ef5350"/>
<rect x="83.03" y="364.9" width="1.2" height="24.8" fill="#26a69a" opacity="0.85"/>
<rect x="82.53" y="385.5" width="2.2" height="3.8" fill="#26a69a"/>
<rect x="85.49" y="377.1" width="1.2" height="14.7" fill="#26a69a" opacity="0.85"/>
<rect x="84.99" y="381.3" width="2.2" height="4.6" fill="#26a69a"/>
<rect x="87.96" y="376.1" width="1.2" height="8.7" fill="#26a69a" opacity="0.85"/>
<rect x="87.46" y="380.9" width="2.2" height="1.1" fill="#26a69a"/>
<rect x="90.43" y="379.2" width="1.2" height="5.9" fill="#ef5350" opacity="0.85"/>
<rect x="89.93" y="380.9" width="2.2" height="1.1" fill="#ef5350"/>
<rect x="92.90" y="376.4" width="1.2" height="9.5" fill="#26a69a" opacity="0.85"/>
<rect x="92.40" y="377.6" width="2.2" height="3.4" fill="#26a69a"/>
<rect x="95.37" y="374.3" width="1.2" height="4.9" fill="#26a69a" opacity="0.85"/>
<rect x="94.87" y="376.4" width="2.2" height="1.4" fill="#26a69a"/>
<rect x="97.84" y="365.9" width="1.2" height="13.0" fill="#ef5350" opacity="0.85"/>
<rect x="97.34" y="376.1" width="2.2" height="2.0" fill="#ef5350"/>
<rect x="100.31" y="372.2" width="1.2" height="7.7" fill="#ef5350" opacity="0.85"/>
<rect x="99.81" y="376.7" width="2.2" height="1.8" fill="#ef5350"/>
<rect x="102.78" y="367.3" width="1.2" height="17.2" fill="#26a69a" opacity="0.85"/>
<rect x="102.28" y="369.1" width="2.2" height="8.4" fill="#26a69a"/>
<rect x="105.25" y="365.9" width="1.2" height="4.2" fill="#26a69a" opacity="0.85"/>
<rect x="104.75" y="367.3" width="2.2" height="1.8" fill="#26a69a"/>
<rect x="107.72" y="365.2" width="1.2" height="8.1" fill="#26a69a" opacity="0.85"/>
<rect x="107.22" y="366.6" width="2.2" height="1.4" fill="#26a69a"/>
<rect x="110.18" y="361.0" width="1.2" height="8.4" fill="#26a69a" opacity="0.85"/>
<rect x="109.68" y="364.5" width="2.2" height="2.1" fill="#26a69a"/>
<rect x="112.65" y="352.3" width="1.2" height="12.9" fill="#26a69a" opacity="0.85"/>
<rect x="112.15" y="353.3" width="2.2" height="11.2" fill="#26a69a"/>
<rect x="115.12" y="350.6" width="1.2" height="12.3" fill="#ef5350" opacity="0.85"/>
<rect x="114.62" y="353.7" width="2.2" height="8.2" fill="#ef5350"/>
<rect x="117.59" y="351.4" width="1.2" height="14.0" fill="#26a69a" opacity="0.85"/>
<rect x="117.09" y="354.9" width="2.2" height="6.1" fill="#26a69a"/>
<rect x="120.06" y="319.9" width="1.2" height="35.9" fill="#26a69a" opacity="0.85"/>
<rect x="119.56" y="323.4" width="2.2" height="31.5" fill="#26a69a"/>
<rect x="122.53" y="291.9" width="1.2" height="32.4" fill="#26a69a" opacity="0.85"/>
<rect x="122.03" y="305.9" width="2.2" height="17.5" fill="#26a69a"/>
<rect x="125.00" y="295.9" width="1.2" height="26.6" fill="#26a69a" opacity="0.85"/>
<rect x="124.50" y="301.5" width="2.2" height="5.3" fill="#26a69a"/>
<rect x="127.47" y="254.9" width="1.2" height="47.5" fill="#26a69a" opacity="0.85"/>
<rect x="126.97" y="255.6" width="2.2" height="45.9" fill="#26a69a"/>
<rect x="129.94" y="240.2" width="1.2" height="16.5" fill="#26a69a" opacity="0.85"/>
<rect x="129.44" y="248.9" width="2.2" height="7.4" fill="#26a69a"/>
<rect x="132.41" y="240.2" width="1.2" height="18.2" fill="#ef5350" opacity="0.85"/>
<rect x="131.91" y="248.9" width="2.2" height="3.9" fill="#ef5350"/>
<rect x="134.87" y="247.9" width="1.2" height="13.3" fill="#ef5350" opacity="0.85"/>
<rect x="134.37" y="252.5" width="2.2" height="8.0" fill="#ef5350"/>
<rect x="137.34" y="256.0" width="1.2" height="35.0" fill="#ef5350" opacity="0.85"/>
<rect x="136.84" y="262.0" width="2.2" height="26.0" fill="#ef5350"/>
<rect x="139.81" y="252.0" width="1.2" height="43.0" fill="#26a69a" opacity="0.85"/>
<rect x="139.31" y="261.0" width="2.2" height="27.0" fill="#26a69a"/>
<rect x="142.28" y="210.0" width="1.2" height="52.0" fill="#26a69a" opacity="0.85"/>
<rect x="141.78" y="213.0" width="2.2" height="48.0" fill="#26a69a"/>
<rect x="144.75" y="192.3" width="1.2" height="30.4" fill="#26a69a" opacity="0.85"/>
<rect x="144.25" y="210.1" width="2.2" height="3.5" fill="#26a69a"/>
<rect x="147.22" y="200.3" width="1.2" height="21.0" fill="#ef5350" opacity="0.85"/>
<rect x="146.72" y="210.1" width="2.2" height="3.5" fill="#ef5350"/>
<rect x="149.69" y="171.0" width="1.2" height="42.9" fill="#26a69a" opacity="0.85"/>
<rect x="149.19" y="173.8" width="2.2" height="39.8" fill="#26a69a"/>
<rect x="152.16" y="135.3" width="1.2" height="41.3" fill="#26a69a" opacity="0.85"/>
<rect x="151.66" y="143.7" width="2.2" height="30.1" fill="#26a69a"/>
<rect x="154.63" y="138.5" width="1.2" height="52.0" fill="#ef5350" opacity="0.85"/>
<rect x="154.13" y="143.7" width="2.2" height="29.0" fill="#ef5350"/>
<rect x="157.09" y="160.9" width="1.2" height="28.2" fill="#26a69a" opacity="0.85"/>
<rect x="156.59" y="169.3" width="2.2" height="3.4" fill="#26a69a"/>
<rect x="159.56" y="162.6" width="1.2" height="45.1" fill="#ef5350" opacity="0.85"/>
<rect x="159.06" y="169.3" width="2.2" height="31.4" fill="#ef5350"/>
<rect x="162.03" y="138.1" width="1.2" height="66.4" fill="#26a69a" opacity="0.85"/>
<rect x="161.53" y="138.8" width="2.2" height="61.9" fill="#26a69a"/>
<rect x="164.50" y="138.3" width="1.2" height="25.5" fill="#ef5350" opacity="0.85"/>
<rect x="164.00" y="138.8" width="2.2" height="14.7" fill="#ef5350"/>
<rect x="166.97" y="140.2" width="1.2" height="31.5" fill="#26a69a" opacity="0.85"/>
<rect x="166.47" y="152.8" width="2.2" height="1.0" fill="#26a69a"/>
<rect x="169.44" y="148.3" width="1.2" height="23.4" fill="#ef5350" opacity="0.85"/>
<rect x="168.94" y="153.5" width="2.2" height="16.1" fill="#ef5350"/>
<rect x="171.91" y="148.3" width="1.2" height="25.5" fill="#26a69a" opacity="0.85"/>
<rect x="171.41" y="165.1" width="2.2" height="4.5" fill="#26a69a"/>
<rect x="174.38" y="145.1" width="1.2" height="26.6" fill="#26a69a" opacity="0.85"/>
<rect x="173.88" y="150.0" width="2.2" height="15.4" fill="#26a69a"/>
<rect x="176.85" y="116.1" width="1.2" height="38.8" fill="#26a69a" opacity="0.85"/>
<rect x="176.35" y="137.4" width="2.2" height="12.6" fill="#26a69a"/>
<rect x="179.32" y="126.9" width="1.2" height="18.6" fill="#26a69a" opacity="0.85"/>
<rect x="178.82" y="136.3" width="2.2" height="1.4" fill="#26a69a"/>
<rect x="181.78" y="136.0" width="1.2" height="23.5" fill="#ef5350" opacity="0.85"/>
<rect x="181.28" y="136.3" width="2.2" height="20.4" fill="#ef5350"/>
<rect x="184.25" y="137.4" width="1.2" height="21.0" fill="#26a69a" opacity="0.85"/>
<rect x="183.75" y="144.4" width="2.2" height="11.5" fill="#26a69a"/>
<rect x="186.72" y="142.3" width="1.2" height="17.5" fill="#ef5350" opacity="0.85"/>
<rect x="186.22" y="144.4" width="2.2" height="11.2" fill="#ef5350"/>
<rect x="189.19" y="149.3" width="1.2" height="127.7" fill="#ef5350" opacity="0.85"/>
<rect x="188.69" y="155.3" width="2.2" height="46.4" fill="#ef5350"/>
<rect x="191.66" y="194.0" width="1.2" height="53.9" fill="#ef5350" opacity="0.85"/>
<rect x="191.16" y="201.7" width="2.2" height="7.0" fill="#ef5350"/>
<rect x="194.13" y="185.6" width="1.2" height="33.6" fill="#26a69a" opacity="0.85"/>
<rect x="193.63" y="201.7" width="2.2" height="7.0" fill="#26a69a"/>
<rect x="196.60" y="191.2" width="1.2" height="45.5" fill="#ef5350" opacity="0.85"/>
<rect x="196.10" y="201.7" width="2.2" height="18.9" fill="#ef5350"/>
<rect x="199.07" y="160.1" width="1.2" height="62.6" fill="#26a69a" opacity="0.85"/>
<rect x="198.57" y="184.2" width="2.2" height="37.1" fill="#26a69a"/>
<rect x="201.54" y="161.9" width="1.2" height="41.2" fill="#ef5350" opacity="0.85"/>
<rect x="201.04" y="184.2" width="2.2" height="8.4" fill="#ef5350"/>
<rect x="204.01" y="189.8" width="1.2" height="42.0" fill="#ef5350" opacity="0.85"/>
<rect x="203.51" y="191.9" width="2.2" height="26.6" fill="#ef5350"/>
<rect x="206.47" y="212.9" width="1.2" height="16.8" fill="#ef5350" opacity="0.85"/>
<rect x="205.97" y="217.8" width="2.2" height="1.4" fill="#ef5350"/>
<rect x="208.94" y="192.3" width="1.2" height="32.5" fill="#26a69a" opacity="0.85"/>
<rect x="208.44" y="203.1" width="2.2" height="16.1" fill="#26a69a"/>
<rect x="211.41" y="195.1" width="1.2" height="25.5" fill="#ef5350" opacity="0.85"/>
<rect x="210.91" y="203.1" width="2.2" height="13.3" fill="#ef5350"/>
<rect x="213.88" y="212.9" width="1.2" height="17.5" fill="#ef5350" opacity="0.85"/>
<rect x="213.38" y="216.4" width="2.2" height="9.1" fill="#ef5350"/>
<rect x="216.35" y="212.6" width="1.2" height="18.8" fill="#26a69a" opacity="0.85"/>
<rect x="215.85" y="223.4" width="2.2" height="1.8" fill="#26a69a"/>
<rect x="218.82" y="219.1" width="1.2" height="19.6" fill="#ef5350" opacity="0.85"/>
<rect x="218.32" y="223.4" width="2.2" height="12.9" fill="#ef5350"/>
<rect x="221.29" y="235.6" width="1.2" height="45.1" fill="#ef5350" opacity="0.85"/>
<rect x="220.79" y="235.9" width="2.2" height="29.7" fill="#ef5350"/>
<rect x="223.76" y="244.0" width="1.2" height="45.8" fill="#ef5350" opacity="0.85"/>
<rect x="223.26" y="265.1" width="2.2" height="14.1" fill="#ef5350"/>
<rect x="226.23" y="237.1" width="1.2" height="44.6" fill="#26a69a" opacity="0.85"/>
<rect x="225.73" y="239.3" width="2.2" height="39.9" fill="#26a69a"/>
<rect x="228.70" y="226.1" width="1.2" height="24.9" fill="#26a69a" opacity="0.85"/>
<rect x="228.20" y="229.3" width="2.2" height="10.0" fill="#26a69a"/>
<rect x="231.16" y="226.1" width="1.2" height="41.4" fill="#ef5350" opacity="0.85"/>
<rect x="230.66" y="229.3" width="2.2" height="7.8" fill="#ef5350"/>
<rect x="233.63" y="209.3" width="1.2" height="32.5" fill="#26a69a" opacity="0.85"/>
<rect x="233.13" y="233.4" width="2.2" height="3.7" fill="#26a69a"/>
<rect x="236.10" y="233.2" width="1.2" height="22.1" fill="#ef5350" opacity="0.85"/>
<rect x="235.60" y="233.4" width="2.2" height="13.8" fill="#ef5350"/>
<rect x="238.57" y="236.2" width="1.2" height="22.7" fill="#ef5350" opacity="0.85"/>
<rect x="238.07" y="247.3" width="2.2" height="11.0" fill="#ef5350"/>
<rect x="241.04" y="251.6" width="1.2" height="20.8" fill="#ef5350" opacity="0.85"/>
<rect x="240.54" y="258.3" width="2.2" height="13.5" fill="#ef5350"/>
<rect x="243.51" y="255.0" width="1.2" height="19.0" fill="#26a69a" opacity="0.85"/>
<rect x="243.01" y="266.9" width="2.2" height="4.9" fill="#26a69a"/>
<rect x="245.98" y="256.5" width="1.2" height="12.9" fill="#26a69a" opacity="0.85"/>
<rect x="245.48" y="259.9" width="2.2" height="8.8" fill="#26a69a"/>
<rect x="248.45" y="236.6" width="1.2" height="26.6" fill="#26a69a" opacity="0.85"/>
<rect x="247.95" y="239.9" width="2.2" height="20.0" fill="#26a69a"/>
<rect x="250.92" y="230.1" width="1.2" height="18.4" fill="#ef5350" opacity="0.85"/>
<rect x="250.42" y="239.9" width="2.2" height="1.0" fill="#ef5350"/>
<rect x="253.39" y="231.7" width="1.2" height="12.5" fill="#26a69a" opacity="0.85"/>
<rect x="252.89" y="239.9" width="2.2" height="1.0" fill="#26a69a"/>
<rect x="255.85" y="239.9" width="1.2" height="14.7" fill="#ef5350" opacity="0.85"/>
<rect x="255.35" y="240.3" width="2.2" height="9.4" fill="#ef5350"/>
<rect x="258.32" y="239.3" width="1.2" height="11.6" fill="#26a69a" opacity="0.85"/>
<rect x="257.82" y="243.2" width="2.2" height="6.5" fill="#26a69a"/>
<rect x="260.79" y="240.5" width="1.2" height="19.6" fill="#ef5350" opacity="0.85"/>
<rect x="260.29" y="243.2" width="2.2" height="3.4" fill="#ef5350"/>
<rect x="263.26" y="222.2" width="1.2" height="32.5" fill="#26a69a" opacity="0.85"/>
<rect x="262.76" y="237.1" width="2.2" height="9.6" fill="#26a69a"/>
<rect x="265.73" y="231.0" width="1.2" height="14.5" fill="#ef5350" opacity="0.85"/>
<rect x="265.23" y="237.1" width="2.2" height="5.3" fill="#ef5350"/>
<rect x="268.20" y="233.4" width="1.2" height="10.8" fill="#26a69a" opacity="0.85"/>
<rect x="267.70" y="237.1" width="2.2" height="5.3" fill="#26a69a"/>
<rect x="270.67" y="236.6" width="1.2" height="16.2" fill="#ef5350" opacity="0.85"/>
<rect x="270.17" y="237.1" width="2.2" height="12.3" fill="#ef5350"/>
<rect x="273.14" y="240.5" width="1.2" height="20.2" fill="#ef5350" opacity="0.85"/>
<rect x="272.64" y="249.4" width="2.2" height="2.2" fill="#ef5350"/>
<rect x="275.61" y="251.3" width="1.2" height="15.0" fill="#ef5350" opacity="0.85"/>
<rect x="275.11" y="251.6" width="2.2" height="8.3" fill="#ef5350"/>
<rect x="278.08" y="247.3" width="1.2" height="17.5" fill="#26a69a" opacity="0.85"/>
<rect x="277.58" y="249.4" width="2.2" height="10.5" fill="#26a69a"/>
<rect x="280.54" y="244.0" width="1.2" height="9.8" fill="#ef5350" opacity="0.85"/>
<rect x="280.04" y="249.4" width="2.2" height="2.8" fill="#ef5350"/>
<rect x="283.01" y="241.2" width="1.2" height="15.3" fill="#26a69a" opacity="0.85"/>
<rect x="282.51" y="245.2" width="2.2" height="6.6" fill="#26a69a"/>
<rect x="285.48" y="240.5" width="1.2" height="11.6" fill="#ef5350" opacity="0.85"/>
<rect x="284.98" y="245.2" width="2.2" height="6.1" fill="#ef5350"/>
<rect x="287.95" y="251.0" width="1.2" height="12.6" fill="#ef5350" opacity="0.85"/>
<rect x="287.45" y="251.3" width="2.2" height="2.9" fill="#ef5350"/>
<rect x="290.42" y="251.3" width="1.2" height="9.4" fill="#ef5350" opacity="0.85"/>
<rect x="289.92" y="254.3" width="2.2" height="4.0" fill="#ef5350"/>
<rect x="292.89" y="254.0" width="1.2" height="8.6" fill="#ef5350" opacity="0.85"/>
<rect x="292.39" y="257.9" width="2.2" height="2.5" fill="#ef5350"/>
<rect x="295.36" y="246.1" width="1.2" height="17.5" fill="#26a69a" opacity="0.85"/>
<rect x="294.86" y="249.1" width="2.2" height="11.3" fill="#26a69a"/>
<rect x="297.83" y="233.2" width="1.2" height="24.8" fill="#ef5350" opacity="0.85"/>
<rect x="297.33" y="249.2" width="2.2" height="7.6" fill="#ef5350"/>
<rect x="300.30" y="246.0" width="1.2" height="12.6" fill="#26a69a" opacity="0.85"/>
<rect x="299.80" y="254.3" width="2.2" height="3.1" fill="#26a69a"/>
<rect x="302.77" y="251.2" width="1.2" height="6.7" fill="#26a69a" opacity="0.85"/>
<rect x="302.27" y="252.1" width="2.2" height="2.5" fill="#26a69a"/>
<rect x="305.23" y="252.1" width="1.2" height="10.5" fill="#ef5350" opacity="0.85"/>
<rect x="304.73" y="252.5" width="2.2" height="7.4" fill="#ef5350"/>
<rect x="307.70" y="251.2" width="1.2" height="9.2" fill="#26a69a" opacity="0.85"/>
<rect x="307.20" y="255.8" width="2.2" height="4.0" fill="#26a69a"/>
<rect x="310.17" y="247.9" width="1.2" height="9.4" fill="#ef5350" opacity="0.85"/>
<rect x="309.67" y="255.8" width="2.2" height="1.0" fill="#ef5350"/>
<rect x="312.64" y="254.3" width="1.2" height="50.1" fill="#ef5350" opacity="0.85"/>
<rect x="312.14" y="256.5" width="2.2" height="33.8" fill="#ef5350"/>
<rect x="315.11" y="268.4" width="1.2" height="22.3" fill="#26a69a" opacity="0.85"/>
<rect x="314.61" y="279.4" width="2.2" height="10.9" fill="#26a69a"/>
<rect x="317.58" y="270.0" width="1.2" height="10.0" fill="#26a69a" opacity="0.85"/>
<rect x="317.08" y="275.1" width="2.2" height="4.3" fill="#26a69a"/>
<rect x="320.05" y="273.9" width="1.2" height="13.3" fill="#ef5350" opacity="0.85"/>
<rect x="319.55" y="275.1" width="2.2" height="8.6" fill="#ef5350"/>
<rect x="322.52" y="272.1" width="1.2" height="16.4" fill="#26a69a" opacity="0.85"/>
<rect x="322.02" y="282.3" width="2.2" height="1.5" fill="#26a69a"/>
<rect x="324.99" y="273.9" width="1.2" height="15.5" fill="#ef5350" opacity="0.85"/>
<rect x="324.49" y="282.3" width="2.2" height="2.5" fill="#ef5350"/>
<rect x="327.46" y="277.0" width="1.2" height="9.0" fill="#26a69a" opacity="0.85"/>
<rect x="326.96" y="281.3" width="2.2" height="3.4" fill="#26a69a"/>
<rect x="329.92" y="255.8" width="1.2" height="27.9" fill="#26a69a" opacity="0.85"/>
<rect x="329.42" y="267.8" width="2.2" height="13.5" fill="#26a69a"/>
<rect x="332.39" y="262.3" width="1.2" height="24.4" fill="#ef5350" opacity="0.85"/>
<rect x="331.89" y="267.8" width="2.2" height="12.0" fill="#ef5350"/>
<rect x="334.86" y="273.9" width="1.2" height="6.7" fill="#ef5350" opacity="0.85"/>
<rect x="334.36" y="279.2" width="2.2" height="1.0" fill="#ef5350"/>
<rect x="337.33" y="270.9" width="1.2" height="13.7" fill="#26a69a" opacity="0.85"/>
<rect x="336.83" y="276.4" width="2.2" height="3.4" fill="#26a69a"/>
<rect x="339.80" y="271.5" width="1.2" height="8.3" fill="#26a69a" opacity="0.85"/>
<rect x="339.30" y="274.5" width="2.2" height="2.1" fill="#26a69a"/>
<rect x="342.27" y="256.5" width="1.2" height="18.4" fill="#26a69a" opacity="0.85"/>
<rect x="341.77" y="259.0" width="2.2" height="15.6" fill="#26a69a"/>
<rect x="344.74" y="221.2" width="1.2" height="39.8" fill="#26a69a" opacity="0.85"/>
<rect x="344.24" y="237.2" width="2.2" height="21.8" fill="#26a69a"/>
<rect x="347.21" y="228.6" width="1.2" height="58.1" fill="#ef5350" opacity="0.85"/>
<rect x="346.71" y="237.2" width="2.2" height="25.7" fill="#ef5350"/>
<rect x="349.68" y="255.3" width="1.2" height="11.3" fill="#ef5350" opacity="0.85"/>
<rect x="349.18" y="262.9" width="2.2" height="2.7" fill="#ef5350"/>
<rect x="352.15" y="262.3" width="1.2" height="15.3" fill="#ef5350" opacity="0.85"/>
<rect x="351.65" y="265.6" width="2.2" height="4.9" fill="#ef5350"/>
<rect x="354.61" y="265.1" width="1.2" height="8.6" fill="#26a69a" opacity="0.85"/>
<rect x="354.11" y="269.0" width="2.2" height="1.5" fill="#26a69a"/>
<rect x="357.08" y="267.2" width="1.2" height="8.0" fill="#ef5350" opacity="0.85"/>
<rect x="356.58" y="269.0" width="2.2" height="2.5" fill="#ef5350"/>
<rect x="359.55" y="262.9" width="1.2" height="12.3" fill="#ef5350" opacity="0.85"/>
<rect x="359.05" y="271.2" width="2.2" height="3.3" fill="#ef5350"/>
<rect x="362.02" y="273.9" width="1.2" height="37.6" fill="#ef5350" opacity="0.85"/>
<rect x="361.52" y="274.2" width="2.2" height="21.1" fill="#ef5350"/>
<rect x="364.49" y="292.2" width="1.2" height="14.1" fill="#26a69a" opacity="0.85"/>
<rect x="363.99" y="294.6" width="2.2" height="1.0" fill="#26a69a"/>
<rect x="366.96" y="290.9" width="1.2" height="28.8" fill="#ef5350" opacity="0.85"/>
<rect x="366.46" y="295.2" width="2.2" height="13.1" fill="#ef5350"/>
<rect x="369.43" y="292.2" width="1.2" height="20.2" fill="#26a69a" opacity="0.85"/>
<rect x="368.93" y="297.1" width="2.2" height="11.3" fill="#26a69a"/>
<rect x="371.90" y="283.3" width="1.2" height="14.3" fill="#26a69a" opacity="0.85"/>
<rect x="371.40" y="288.2" width="2.2" height="8.8" fill="#26a69a"/>
<rect x="374.37" y="287.3" width="1.2" height="14.5" fill="#ef5350" opacity="0.85"/>
<rect x="373.87" y="288.2" width="2.2" height="13.1" fill="#ef5350"/>
<rect x="376.84" y="300.1" width="1.2" height="11.4" fill="#ef5350" opacity="0.85"/>
<rect x="376.34" y="301.0" width="2.2" height="9.6" fill="#ef5350"/>
<rect x="379.30" y="303.4" width="1.2" height="11.0" fill="#ef5350" opacity="0.85"/>
<rect x="378.80" y="310.5" width="2.2" height="3.4" fill="#ef5350"/>
<rect x="381.77" y="313.2" width="1.2" height="23.0" fill="#ef5350" opacity="0.85"/>
<rect x="381.27" y="313.6" width="2.2" height="11.9" fill="#ef5350"/>
<rect x="384.24" y="313.6" width="1.2" height="17.8" fill="#26a69a" opacity="0.85"/>
<rect x="383.74" y="324.3" width="2.2" height="1.6" fill="#26a69a"/>
<rect x="386.71" y="322.1" width="1.2" height="28.2" fill="#ef5350" opacity="0.85"/>
<rect x="386.21" y="324.3" width="2.2" height="21.1" fill="#ef5350"/>
<rect x="389.18" y="338.0" width="1.2" height="8.0" fill="#26a69a" opacity="0.85"/>
<rect x="388.68" y="342.9" width="2.2" height="2.5" fill="#26a69a"/>
<rect x="391.65" y="335.5" width="1.2" height="25.7" fill="#26a69a" opacity="0.85"/>
<rect x="391.15" y="336.2" width="2.2" height="7.4" fill="#26a69a"/>
<rect x="394.12" y="329.4" width="1.2" height="12.9" fill="#26a69a" opacity="0.85"/>
<rect x="393.62" y="335.5" width="2.2" height="1.0" fill="#26a69a"/>
<rect x="396.59" y="330.4" width="1.2" height="12.5" fill="#ef5350" opacity="0.85"/>
<rect x="396.09" y="334.9" width="2.2" height="7.4" fill="#ef5350"/>
<rect x="399.06" y="331.9" width="1.2" height="12.9" fill="#ef5350" opacity="0.85"/>
<rect x="398.56" y="341.9" width="2.2" height="1.0" fill="#ef5350"/>
<rect x="401.53" y="311.0" width="1.2" height="36.2" fill="#26a69a" opacity="0.85"/>
<rect x="401.03" y="318.1" width="2.2" height="24.5" fill="#26a69a"/>
<rect x="403.99" y="315.9" width="1.2" height="31.2" fill="#ef5350" opacity="0.85"/>
<rect x="403.49" y="318.1" width="2.2" height="23.5" fill="#ef5350"/>
<rect x="406.46" y="341.1" width="1.2" height="53.8" fill="#ef5350" opacity="0.85"/>
<rect x="405.96" y="341.7" width="2.2" height="20.1" fill="#ef5350"/>
<rect x="408.93" y="359.4" width="1.2" height="21.9" fill="#ef5350" opacity="0.85"/>
<rect x="408.43" y="361.7" width="2.2" height="5.8" fill="#ef5350"/>
<rect x="411.40" y="358.7" width="1.2" height="26.3" fill="#26a69a" opacity="0.85"/>
<rect x="410.90" y="362.1" width="2.2" height="5.4" fill="#26a69a"/>
<rect x="413.87" y="352.9" width="1.2" height="16.2" fill="#ef5350" opacity="0.85"/>
<rect x="413.37" y="362.1" width="2.2" height="5.8" fill="#ef5350"/>
<rect x="416.34" y="360.9" width="1.2" height="12.3" fill="#26a69a" opacity="0.85"/>
<rect x="415.84" y="364.8" width="2.2" height="3.1" fill="#26a69a"/>
<rect x="418.81" y="363.0" width="1.2" height="18.4" fill="#ef5350" opacity="0.85"/>
<rect x="418.31" y="364.8" width="2.2" height="16.2" fill="#ef5350"/>
<rect x="421.28" y="373.4" width="1.2" height="19.4" fill="#ef5350" opacity="0.85"/>
<rect x="420.78" y="381.0" width="2.2" height="11.4" fill="#ef5350"/>
<rect x="423.75" y="369.5" width="1.2" height="25.4" fill="#26a69a" opacity="0.85"/>
<rect x="423.25" y="371.2" width="2.2" height="21.2" fill="#26a69a"/>
<rect x="426.22" y="362.1" width="1.2" height="13.5" fill="#ef5350" opacity="0.85"/>
<rect x="425.72" y="371.2" width="2.2" height="1.2" fill="#ef5350"/>
<rect x="428.68" y="370.3" width="1.2" height="22.9" fill="#ef5350" opacity="0.85"/>
<rect x="428.18" y="372.2" width="2.2" height="18.6" fill="#ef5350"/>
<rect x="431.15" y="383.8" width="1.2" height="9.2" fill="#26a69a" opacity="0.85"/>
<rect x="430.65" y="384.2" width="2.2" height="6.6" fill="#26a69a"/>
<rect x="433.62" y="374.0" width="1.2" height="18.4" fill="#26a69a" opacity="0.85"/>
<rect x="433.12" y="377.7" width="2.2" height="6.7" fill="#26a69a"/>
<rect x="436.09" y="374.4" width="1.2" height="14.3" fill="#ef5350" opacity="0.85"/>
<rect x="435.59" y="377.7" width="2.2" height="10.4" fill="#ef5350"/>
<rect x="438.56" y="385.0" width="1.2" height="10.7" fill="#ef5350" opacity="0.85"/>
<rect x="438.06" y="387.8" width="2.2" height="3.9" fill="#ef5350"/>
<rect x="441.03" y="384.2" width="1.2" height="8.8" fill="#26a69a" opacity="0.85"/>
<rect x="440.53" y="387.5" width="2.2" height="4.3" fill="#26a69a"/>
<rect x="443.50" y="377.3" width="1.2" height="10.8" fill="#26a69a" opacity="0.85"/>
<rect x="443.00" y="387.1" width="2.2" height="1.0" fill="#26a69a"/>
<rect x="445.97" y="384.4" width="1.2" height="8.8" fill="#ef5350" opacity="0.85"/>
<rect x="445.47" y="387.1" width="2.2" height="1.2" fill="#ef5350"/>
<rect x="448.44" y="380.7" width="1.2" height="8.3" fill="#26a69a" opacity="0.85"/>
<rect x="447.94" y="381.3" width="2.2" height="7.0" fill="#26a69a"/>
<rect x="450.91" y="368.7" width="1.2" height="13.8" fill="#26a69a" opacity="0.85"/>
<rect x="450.41" y="375.2" width="2.2" height="7.0" fill="#26a69a"/>
<rect x="453.37" y="351.2" width="1.2" height="26.1" fill="#26a69a" opacity="0.85"/>
<rect x="452.87" y="352.9" width="2.2" height="22.6" fill="#26a69a"/>
<rect x="455.84" y="350.9" width="1.2" height="15.9" fill="#ef5350" opacity="0.85"/>
<rect x="455.34" y="352.9" width="2.2" height="13.2" fill="#ef5350"/>
<rect x="458.31" y="355.4" width="1.2" height="11.2" fill="#26a69a" opacity="0.85"/>
<rect x="457.81" y="357.0" width="2.2" height="9.2" fill="#26a69a"/>
<rect x="460.78" y="353.9" width="1.2" height="9.2" fill="#26a69a" opacity="0.85"/>
<rect x="460.28" y="356.1" width="2.2" height="1.2" fill="#26a69a"/>
<rect x="463.25" y="335.8" width="1.2" height="20.8" fill="#26a69a" opacity="0.85"/>
<rect x="462.75" y="347.2" width="2.2" height="9.2" fill="#26a69a"/>
<rect x="465.72" y="344.1" width="1.2" height="23.3" fill="#ef5350" opacity="0.85"/>
<rect x="465.22" y="347.2" width="2.2" height="17.2" fill="#ef5350"/>
<rect x="468.19" y="358.2" width="1.2" height="17.4" fill="#ef5350" opacity="0.85"/>
<rect x="467.69" y="364.3" width="2.2" height="10.3" fill="#ef5350"/>
<rect x="470.66" y="367.3" width="1.2" height="11.3" fill="#26a69a" opacity="0.85"/>
<rect x="470.16" y="370.3" width="2.2" height="4.5" fill="#26a69a"/>
<rect x="473.13" y="367.3" width="1.2" height="14.1" fill="#ef5350" opacity="0.85"/>
<rect x="472.63" y="370.3" width="2.2" height="7.4" fill="#ef5350"/>
<rect x="475.60" y="366.6" width="1.2" height="11.4" fill="#26a69a" opacity="0.85"/>
<rect x="475.10" y="367.3" width="2.2" height="10.4" fill="#26a69a"/>
<rect x="478.06" y="365.8" width="1.2" height="2.9" fill="#ef5350" opacity="0.85"/>
<rect x="477.56" y="367.3" width="2.2" height="1.0" fill="#ef5350"/>
<rect x="480.53" y="366.6" width="1.2" height="10.4" fill="#ef5350" opacity="0.85"/>
<rect x="480.03" y="367.9" width="2.2" height="8.6" fill="#ef5350"/>
<rect x="483.00" y="370.9" width="1.2" height="8.6" fill="#ef5350" opacity="0.85"/>
<rect x="482.50" y="376.4" width="2.2" height="1.2" fill="#ef5350"/>
<rect x="485.47" y="371.0" width="1.2" height="22.8" fill="#ef5350" opacity="0.85"/>
<rect x="484.97" y="377.7" width="2.2" height="12.0" fill="#ef5350"/>
<rect x="487.94" y="378.9" width="1.2" height="17.0" fill="#26a69a" opacity="0.85"/>
<rect x="487.44" y="381.6" width="2.2" height="8.1" fill="#26a69a"/>
<rect x="490.41" y="380.8" width="1.2" height="12.1" fill="#ef5350" opacity="0.85"/>
<rect x="489.91" y="381.6" width="2.2" height="10.6" fill="#ef5350"/>
<rect x="492.88" y="385.1" width="1.2" height="19.4" fill="#ef5350" opacity="0.85"/>
<rect x="492.38" y="392.3" width="2.2" height="4.3" fill="#ef5350"/>
<rect x="495.35" y="392.9" width="1.2" height="9.2" fill="#ef5350" opacity="0.85"/>
<rect x="494.85" y="396.2" width="2.2" height="2.2" fill="#ef5350"/>
<rect x="497.82" y="396.5" width="1.2" height="15.6" fill="#ef5350" opacity="0.85"/>
<rect x="497.32" y="398.1" width="2.2" height="7.0" fill="#ef5350"/>
<rect x="500.29" y="394.5" width="1.2" height="11.0" fill="#26a69a" opacity="0.85"/>
<rect x="499.79" y="395.0" width="2.2" height="10.2" fill="#26a69a"/>
<rect x="502.75" y="376.5" width="1.2" height="19.2" fill="#26a69a" opacity="0.85"/>
<rect x="502.25" y="377.5" width="2.2" height="17.9" fill="#26a69a"/>
<rect x="505.22" y="371.0" width="1.2" height="18.4" fill="#ef5350" opacity="0.85"/>
<rect x="504.72" y="377.5" width="2.2" height="11.3" fill="#ef5350"/>
<rect x="507.69" y="377.1" width="1.2" height="12.9" fill="#26a69a" opacity="0.85"/>
<rect x="507.19" y="380.8" width="2.2" height="8.0" fill="#26a69a"/>
<rect x="510.16" y="375.9" width="1.2" height="9.8" fill="#ef5350" opacity="0.85"/>
<rect x="509.66" y="380.4" width="2.2" height="1.0" fill="#ef5350"/>
<rect x="512.63" y="360.5" width="1.2" height="20.6" fill="#26a69a" opacity="0.85"/>
<rect x="512.13" y="363.0" width="2.2" height="17.8" fill="#26a69a"/>
<rect x="515.10" y="333.8" width="1.2" height="32.2" fill="#26a69a" opacity="0.85"/>
<rect x="514.60" y="334.2" width="2.2" height="28.8" fill="#26a69a"/>
<rect x="517.57" y="329.7" width="1.2" height="32.1" fill="#ef5350" opacity="0.85"/>
<rect x="517.07" y="334.2" width="2.2" height="22.4" fill="#ef5350"/>
<rect x="520.04" y="344.9" width="1.2" height="29.8" fill="#ef5350" opacity="0.85"/>
<rect x="519.54" y="356.6" width="2.2" height="17.4" fill="#ef5350"/>
<rect x="522.51" y="359.9" width="1.2" height="25.7" fill="#ef5350" opacity="0.85"/>
<rect x="522.01" y="373.8" width="2.2" height="11.3" fill="#ef5350"/>
<rect x="524.98" y="381.1" width="1.2" height="26.4" fill="#ef5350" opacity="0.85"/>
<rect x="524.48" y="384.4" width="2.2" height="21.5" fill="#ef5350"/>
<rect x="527.44" y="399.9" width="1.2" height="34.7" fill="#ef5350" opacity="0.85"/>
<rect x="526.94" y="405.5" width="2.2" height="7.4" fill="#ef5350"/>
<rect x="529.91" y="398.1" width="1.2" height="16.8" fill="#26a69a" opacity="0.85"/>
<rect x="529.41" y="405.1" width="2.2" height="7.7" fill="#26a69a"/>
<rect x="532.38" y="404.5" width="1.2" height="25.1" fill="#ef5350" opacity="0.85"/>
<rect x="531.88" y="405.1" width="2.2" height="8.6" fill="#ef5350"/>
<rect x="534.85" y="412.1" width="1.2" height="11.4" fill="#ef5350" opacity="0.85"/>
<rect x="534.35" y="413.3" width="2.2" height="3.2" fill="#ef5350"/>
<rect x="537.32" y="399.9" width="1.2" height="20.0" fill="#26a69a" opacity="0.85"/>
<rect x="536.82" y="412.1" width="2.2" height="4.4" fill="#26a69a"/>
<rect x="539.79" y="410.9" width="1.2" height="10.8" fill="#ef5350" opacity="0.85"/>
<rect x="539.29" y="411.6" width="2.2" height="5.1" fill="#ef5350"/>
<rect x="542.26" y="415.3" width="1.2" height="5.8" fill="#26a69a" opacity="0.85"/>
<rect x="541.76" y="415.8" width="2.2" height="1.0" fill="#26a69a"/>
<rect x="544.73" y="410.0" width="1.2" height="6.5" fill="#26a69a" opacity="0.85"/>
<rect x="544.23" y="414.3" width="2.2" height="1.8" fill="#26a69a"/>
<rect x="547.20" y="411.9" width="1.2" height="7.1" fill="#ef5350" opacity="0.85"/>
<rect x="546.70" y="414.3" width="2.2" height="3.4" fill="#ef5350"/>
<rect x="549.67" y="414.6" width="1.2" height="7.4" fill="#26a69a" opacity="0.85"/>
<rect x="549.17" y="415.3" width="2.2" height="2.5" fill="#26a69a"/>
<rect x="552.13" y="408.2" width="1.2" height="8.0" fill="#26a69a" opacity="0.85"/>
<rect x="551.63" y="408.8" width="2.2" height="6.7" fill="#26a69a"/>
<rect x="554.60" y="407.9" width="1.2" height="11.9" fill="#ef5350" opacity="0.85"/>
<rect x="554.10" y="408.8" width="2.2" height="10.4" fill="#ef5350"/>
<rect x="557.07" y="413.1" width="1.2" height="7.1" fill="#26a69a" opacity="0.85"/>
<rect x="556.57" y="413.7" width="2.2" height="5.8" fill="#26a69a"/>
<rect x="559.54" y="401.8" width="1.2" height="13.7" fill="#26a69a" opacity="0.85"/>
<rect x="559.04" y="402.3" width="2.2" height="11.4" fill="#26a69a"/>
<rect x="562.01" y="396.5" width="1.2" height="11.9" fill="#ef5350" opacity="0.85"/>
<rect x="561.51" y="402.3" width="2.2" height="2.2" fill="#ef5350"/>
<rect x="564.48" y="400.8" width="1.2" height="7.6" fill="#26a69a" opacity="0.85"/>
<rect x="563.98" y="401.4" width="2.2" height="3.1" fill="#26a69a"/>
<rect x="566.95" y="391.6" width="1.2" height="12.6" fill="#26a69a" opacity="0.85"/>
<rect x="566.45" y="393.2" width="2.2" height="8.6" fill="#26a69a"/>
<rect x="569.42" y="383.9" width="1.2" height="18.8" fill="#ef5350" opacity="0.85"/>
<rect x="568.92" y="393.2" width="2.2" height="3.3" fill="#ef5350"/>
<rect x="571.89" y="391.0" width="1.2" height="9.2" fill="#26a69a" opacity="0.85"/>
<rect x="571.39" y="394.7" width="2.2" height="1.8" fill="#26a69a"/>
<rect x="574.36" y="389.5" width="1.2" height="11.5" fill="#ef5350" opacity="0.85"/>
<rect x="573.86" y="394.4" width="2.2" height="6.4" fill="#ef5350"/>
<rect x="576.82" y="399.5" width="1.2" height="12.3" fill="#ef5350" opacity="0.85"/>
<rect x="576.32" y="400.1" width="2.2" height="11.4" fill="#ef5350"/>
<rect x="579.29" y="409.3" width="1.2" height="8.6" fill="#ef5350" opacity="0.85"/>
<rect x="578.79" y="411.2" width="2.2" height="3.7" fill="#ef5350"/>
<rect x="581.76" y="411.5" width="1.2" height="5.8" fill="#ef5350" opacity="0.85"/>
<rect x="581.26" y="414.2" width="2.2" height="2.5" fill="#ef5350"/>
<rect x="584.23" y="414.8" width="1.2" height="4.5" fill="#26a69a" opacity="0.85"/>
<rect x="583.73" y="415.7" width="2.2" height="1.2" fill="#26a69a"/>
<rect x="586.70" y="406.2" width="1.2" height="10.2" fill="#26a69a" opacity="0.85"/>
<rect x="586.20" y="406.9" width="2.2" height="9.2" fill="#26a69a"/>
<rect x="589.17" y="406.2" width="1.2" height="6.1" fill="#ef5350" opacity="0.85"/>
<rect x="588.67" y="406.9" width="2.2" height="4.9" fill="#ef5350"/>
<rect x="591.64" y="408.1" width="1.2" height="12.9" fill="#ef5350" opacity="0.85"/>
<rect x="591.14" y="411.5" width="2.2" height="9.1" fill="#ef5350"/>
<rect x="594.11" y="416.2" width="1.2" height="8.4" fill="#ef5350" opacity="0.85"/>
<rect x="593.61" y="419.5" width="2.2" height="4.0" fill="#ef5350"/>
<rect x="596.58" y="419.8" width="1.2" height="6.5" fill="#26a69a" opacity="0.85"/>
<rect x="596.08" y="422.6" width="2.2" height="1.0" fill="#26a69a"/>
<rect x="599.05" y="422.6" width="1.2" height="11.1" fill="#ef5350" opacity="0.85"/>
<rect x="598.55" y="423.1" width="2.2" height="10.3" fill="#ef5350"/>
<rect x="601.51" y="423.6" width="1.2" height="20.5" fill="#ef5350" opacity="0.85"/>
<rect x="601.01" y="432.9" width="2.2" height="10.8" fill="#ef5350"/>
<rect x="603.98" y="438.2" width="1.2" height="11.1" fill="#26a69a" opacity="0.85"/>
<rect x="603.48" y="438.7" width="2.2" height="5.0" fill="#26a69a"/>
<rect x="606.45" y="428.1" width="1.2" height="14.6" fill="#ef5350" opacity="0.85"/>
<rect x="605.95" y="438.7" width="2.2" height="3.3" fill="#ef5350"/>
<rect x="608.92" y="437.0" width="1.2" height="22.4" fill="#ef5350" opacity="0.85"/>
<rect x="608.42" y="442.0" width="2.2" height="2.4" fill="#ef5350"/>
<rect x="611.39" y="435.2" width="1.2" height="12.3" fill="#26a69a" opacity="0.85"/>
<rect x="610.89" y="436.7" width="2.2" height="7.8" fill="#26a69a"/>
<rect x="613.86" y="432.1" width="1.2" height="7.6" fill="#ef5350" opacity="0.85"/>
<rect x="613.36" y="436.7" width="2.2" height="2.3" fill="#ef5350"/>
<rect x="616.33" y="435.2" width="1.2" height="11.1" fill="#ef5350" opacity="0.85"/>
<rect x="615.83" y="439.0" width="2.2" height="4.7" fill="#ef5350"/>
<rect x="618.80" y="427.1" width="1.2" height="18.1" fill="#26a69a" opacity="0.85"/>
<rect x="618.30" y="428.1" width="2.2" height="15.6" fill="#26a69a"/>
<rect x="621.27" y="421.2" width="1.2" height="10.4" fill="#26a69a" opacity="0.85"/>
<rect x="620.77" y="427.6" width="2.2" height="1.0" fill="#26a69a"/>
<rect x="623.74" y="426.1" width="1.2" height="6.6" fill="#ef5350" opacity="0.85"/>
<rect x="623.24" y="427.6" width="2.2" height="4.0" fill="#ef5350"/>
<rect x="626.20" y="430.9" width="1.2" height="8.3" fill="#ef5350" opacity="0.85"/>
<rect x="625.70" y="431.3" width="2.2" height="5.3" fill="#ef5350"/>
<rect x="628.67" y="436.4" width="1.2" height="11.4" fill="#ef5350" opacity="0.85"/>
<rect x="628.17" y="436.7" width="2.2" height="8.8" fill="#ef5350"/>
<rect x="631.14" y="439.7" width="1.2" height="8.6" fill="#26a69a" opacity="0.85"/>
<rect x="630.64" y="443.0" width="2.2" height="2.4" fill="#26a69a"/>
<rect x="633.61" y="441.0" width="1.2" height="8.3" fill="#ef5350" opacity="0.85"/>
<rect x="633.11" y="442.7" width="2.2" height="6.0" fill="#ef5350"/>
<rect x="636.08" y="444.7" width="1.2" height="10.4" fill="#ef5350" opacity="0.85"/>
<rect x="635.58" y="448.5" width="2.2" height="5.3" fill="#ef5350"/>
<rect x="638.55" y="448.3" width="1.2" height="5.8" fill="#26a69a" opacity="0.85"/>
<rect x="638.05" y="451.8" width="2.2" height="2.0" fill="#26a69a"/>
<rect x="641.02" y="442.7" width="1.2" height="9.4" fill="#26a69a" opacity="0.85"/>
<rect x="640.52" y="444.2" width="2.2" height="7.6" fill="#26a69a"/>
<rect x="643.49" y="443.7" width="1.2" height="10.1" fill="#ef5350" opacity="0.85"/>
<rect x="642.99" y="444.2" width="2.2" height="6.9" fill="#ef5350"/>
<rect x="645.96" y="449.3" width="1.2" height="5.2" fill="#ef5350" opacity="0.85"/>
<rect x="645.46" y="450.8" width="2.2" height="3.0" fill="#ef5350"/>
<rect x="648.43" y="451.5" width="1.2" height="2.6" fill="#26a69a" opacity="0.85"/>
<rect x="647.93" y="452.8" width="2.2" height="1.0" fill="#26a69a"/>
<rect x="650.89" y="448.1" width="1.2" height="6.8" fill="#ef5350" opacity="0.85"/>
<rect x="650.39" y="453.1" width="2.2" height="1.4" fill="#ef5350"/>
<rect x="653.36" y="449.3" width="1.2" height="6.0" fill="#26a69a" opacity="0.85"/>
<rect x="652.86" y="451.8" width="2.2" height="2.7" fill="#26a69a"/>
<rect x="655.83" y="449.3" width="1.2" height="5.0" fill="#ef5350" opacity="0.85"/>
<rect x="655.33" y="451.5" width="2.2" height="1.0" fill="#ef5350"/>
<rect x="658.30" y="445.7" width="1.2" height="6.8" fill="#26a69a" opacity="0.85"/>
<rect x="657.80" y="446.2" width="2.2" height="5.8" fill="#26a69a"/>
<rect x="660.77" y="443.7" width="1.2" height="3.7" fill="#ef5350" opacity="0.85"/>
<rect x="660.27" y="446.2" width="2.2" height="1.0" fill="#ef5350"/>
<rect x="663.24" y="443.0" width="1.2" height="5.2" fill="#26a69a" opacity="0.85"/>
<rect x="662.74" y="444.2" width="2.2" height="3.0" fill="#26a69a"/>
<rect x="665.71" y="435.3" width="1.2" height="9.4" fill="#26a69a" opacity="0.85"/>
<rect x="665.21" y="435.9" width="2.2" height="8.6" fill="#26a69a"/>
<rect x="668.18" y="434.9" width="1.2" height="7.4" fill="#ef5350" opacity="0.85"/>
<rect x="667.68" y="437.1" width="2.2" height="4.3" fill="#ef5350"/>
<rect x="670.65" y="432.2" width="1.2" height="10.0" fill="#26a69a" opacity="0.85"/>
<rect x="670.15" y="434.9" width="2.2" height="5.9" fill="#26a69a"/>
<rect x="673.12" y="424.6" width="1.2" height="11.0" fill="#26a69a" opacity="0.85"/>
<rect x="672.62" y="426.1" width="2.2" height="8.8" fill="#26a69a"/>
<rect x="675.58" y="406.5" width="1.2" height="22.1" fill="#26a69a" opacity="0.85"/>
<rect x="675.08" y="407.1" width="2.2" height="19.2" fill="#26a69a"/>
<rect x="678.05" y="394.9" width="1.2" height="16.5" fill="#26a69a" opacity="0.85"/>
<rect x="677.55" y="404.1" width="2.2" height="6.4" fill="#26a69a"/>
<rect x="680.52" y="397.9" width="1.2" height="13.7" fill="#ef5350" opacity="0.85"/>
<rect x="680.02" y="404.1" width="2.2" height="4.7" fill="#ef5350"/>
<rect x="682.99" y="398.5" width="1.2" height="12.3" fill="#26a69a" opacity="0.85"/>
<rect x="682.49" y="400.6" width="2.2" height="8.1" fill="#26a69a"/>
<rect x="685.46" y="395.5" width="1.2" height="12.3" fill="#26a69a" opacity="0.85"/>
<rect x="684.96" y="396.1" width="2.2" height="4.9" fill="#26a69a"/>
<rect x="687.93" y="387.1" width="1.2" height="12.3" fill="#ef5350" opacity="0.85"/>
<rect x="687.43" y="396.1" width="2.2" height="2.5" fill="#ef5350"/>
<rect x="690.40" y="387.1" width="1.2" height="11.8" fill="#26a69a" opacity="0.85"/>
<rect x="689.90" y="395.2" width="2.2" height="3.3" fill="#26a69a"/>
<rect x="692.87" y="390.8" width="1.2" height="7.7" fill="#ef5350" opacity="0.85"/>
<rect x="692.37" y="394.9" width="2.2" height="1.0" fill="#ef5350"/>
<rect x="695.34" y="389.1" width="1.2" height="13.7" fill="#ef5350" opacity="0.85"/>
<rect x="694.84" y="394.9" width="2.2" height="7.7" fill="#ef5350"/>
<rect x="697.81" y="397.7" width="1.2" height="10.0" fill="#26a69a" opacity="0.85"/>
<rect x="697.31" y="397.9" width="2.2" height="4.7" fill="#26a69a"/>
<rect x="700.27" y="394.0" width="1.2" height="7.0" fill="#ef5350" opacity="0.85"/>
<rect x="699.77" y="397.9" width="2.2" height="2.5" fill="#ef5350"/>
<rect x="702.74" y="393.3" width="1.2" height="8.6" fill="#26a69a" opacity="0.85"/>
<rect x="702.24" y="396.5" width="2.2" height="3.9" fill="#26a69a"/>
<rect x="705.21" y="387.1" width="1.2" height="11.4" fill="#26a69a" opacity="0.85"/>
<rect x="704.71" y="392.0" width="2.2" height="4.4" fill="#26a69a"/>
<rect x="707.68" y="390.8" width="1.2" height="7.7" fill="#ef5350" opacity="0.85"/>
<rect x="707.18" y="392.0" width="2.2" height="5.6" fill="#ef5350"/>
<rect x="710.15" y="397.3" width="1.2" height="18.4" fill="#ef5350" opacity="0.85"/>
<rect x="709.65" y="397.7" width="2.2" height="17.6" fill="#ef5350"/>
<rect x="712.62" y="408.0" width="1.2" height="8.1" fill="#26a69a" opacity="0.85"/>
<rect x="712.12" y="408.7" width="2.2" height="6.6" fill="#26a69a"/>
<rect x="715.09" y="407.7" width="1.2" height="12.0" fill="#ef5350" opacity="0.85"/>
<rect x="714.59" y="408.7" width="2.2" height="10.7" fill="#ef5350"/>
<rect x="717.56" y="416.1" width="1.2" height="3.7" fill="#26a69a" opacity="0.85"/>
<rect x="717.06" y="416.3" width="2.2" height="3.1" fill="#26a69a"/>
<rect x="720.03" y="412.4" width="1.2" height="7.0" fill="#ef5350" opacity="0.85"/>
<rect x="719.53" y="416.9" width="2.2" height="1.8" fill="#ef5350"/>
<rect x="722.50" y="417.8" width="1.2" height="16.9" fill="#ef5350" opacity="0.85"/>
<rect x="722.00" y="418.5" width="2.2" height="15.9" fill="#ef5350"/>
<rect x="724.96" y="424.9" width="1.2" height="9.8" fill="#26a69a" opacity="0.85"/>
<rect x="724.46" y="429.2" width="2.2" height="5.3" fill="#26a69a"/>
<rect x="727.43" y="424.9" width="1.2" height="7.1" fill="#26a69a" opacity="0.85"/>
<rect x="726.93" y="426.1" width="2.2" height="3.4" fill="#26a69a"/>
<rect x="729.90" y="424.3" width="1.2" height="8.9" fill="#ef5350" opacity="0.85"/>
<rect x="729.40" y="426.1" width="2.2" height="6.7" fill="#ef5350"/>
<rect x="732.37" y="428.6" width="1.2" height="4.7" fill="#26a69a" opacity="0.85"/>
<rect x="731.87" y="429.2" width="2.2" height="3.7" fill="#26a69a"/>
<rect x="734.84" y="428.3" width="1.2" height="2.7" fill="#ef5350" opacity="0.85"/>
<rect x="734.34" y="429.2" width="2.2" height="1.2" fill="#ef5350"/>
<rect x="737.31" y="427.6" width="1.2" height="8.1" fill="#ef5350" opacity="0.85"/>
<rect x="736.81" y="430.0" width="2.2" height="4.9" fill="#ef5350"/>
<rect x="739.78" y="431.6" width="1.2" height="9.2" fill="#26a69a" opacity="0.85"/>
<rect x="739.28" y="432.0" width="2.2" height="2.9" fill="#26a69a"/>
<rect x="742.25" y="430.0" width="1.2" height="3.7" fill="#ef5350" opacity="0.85"/>
<rect x="741.75" y="431.6" width="2.2" height="1.8" fill="#ef5350"/>
</g>
<line x1="0" y1="433.5" x2="944" y2="433.5" stroke="#ef5350" stroke-width="1" stroke-dasharray="1 1.4" opacity="0.9"/>
<rect x="944" y="0" width="48" height="571" fill="#fff"/>
<rect x="0" y="562" width="992" height="9" fill="#fff"/>
<line x1="943.9" y1="0" x2="943.9" y2="562" stroke="#e6e7eb" stroke-width="1.2"/>
<line x1="0" y1="561.5" x2="992" y2="561.5" stroke="#e3e4e9" stroke-width="1" shape-rendering="crispEdges"/>
<g font-size="10" fill="#131722" opacity="0.9">
<text x="951.8" y="543.3" textLength="23.4" lengthAdjust="spacingAndGlyphs">0.200</text>
<text x="951.8" y="514.1" textLength="23.4" lengthAdjust="spacingAndGlyphs">0.400</text>
<text x="951.8" y="484.9" textLength="23.4" lengthAdjust="spacingAndGlyphs">0.600</text>
<text x="951.8" y="455.7" textLength="23.4" lengthAdjust="spacingAndGlyphs">0.800</text>
<text x="951.8" y="426.5" textLength="23.4" lengthAdjust="spacingAndGlyphs">1.000</text>
<text x="951.8" y="397.3" textLength="23.4" lengthAdjust="spacingAndGlyphs">1.200</text>
<text x="951.8" y="368.1" textLength="23.4" lengthAdjust="spacingAndGlyphs">1.400</text>
<text x="951.8" y="338.9" textLength="23.4" lengthAdjust="spacingAndGlyphs">1.600</text>
<text x="951.8" y="309.7" textLength="23.4" lengthAdjust="spacingAndGlyphs">1.800</text>
<text x="951.8" y="280.5" textLength="23.4" lengthAdjust="spacingAndGlyphs">2.000</text>
<text x="951.8" y="251.3" textLength="23.4" lengthAdjust="spacingAndGlyphs">2.200</text>
<text x="951.8" y="222.1" textLength="23.4" lengthAdjust="spacingAndGlyphs">2.400</text>
<text x="951.8" y="192.9" textLength="23.4" lengthAdjust="spacingAndGlyphs">2.600</text>
<text x="951.8" y="163.7" textLength="23.4" lengthAdjust="spacingAndGlyphs">2.800</text>
<text x="951.8" y="134.5" textLength="23.4" lengthAdjust="spacingAndGlyphs">3.000</text>
<text x="951.8" y="105.3" textLength="23.4" lengthAdjust="spacingAndGlyphs">3.200</text>
<text x="951.8" y="76.1" textLength="23.4" lengthAdjust="spacingAndGlyphs">3.400</text>
<text x="951.8" y="46.9" textLength="23.4" lengthAdjust="spacingAndGlyphs">3.600</text>
<text x="951.8" y="17.7" textLength="23.4" lengthAdjust="spacingAndGlyphs">3.800</text>
</g>
<rect x="953.5" y="-3.5" width="34" height="18.3" rx="3" fill="#fff" stroke="#e3e4e9"/>
<text x="957" y="10.4" font-size="10.5" fill="#131722" opacity="0.88" textLength="22" lengthAdjust="spacingAndGlyphs">USDT</text>
<path d="M981.1 5.5 L983 7.4 L984.9 5.5" fill="none" stroke="#2a2e39" stroke-width="1.2"/>
<rect x="894" y="427" width="49" height="13" rx="2" fill="#ef5350"/>
<text x="899" y="436.9" font-size="9" fill="#fff" stroke="#fff" stroke-width="0.35" textLength="38.8" lengthAdjust="spacingAndGlyphs">ADAUSDT</text>
<rect x="944" y="427" width="48" height="24" fill="#ef5350"/>
<text x="951.6" y="436.5" font-size="9" fill="#fff" textLength="23.4" lengthAdjust="spacingAndGlyphs">0.927</text>
<text x="951.6" y="447.8" font-size="8.6" fill="#fff" opacity="0.8" textLength="37" lengthAdjust="spacingAndGlyphs">16:19:24</text>
<g font-size="12.2" fill="#131722" opacity="0.85">
<text x="2.3" y="11.8" textLength="45.7" lengthAdjust="spacingAndGlyphs">Cardano</text>
<text x="55.2" y="11.8">/</text>
<text x="62.7" y="11.8" textLength="51.3" lengthAdjust="spacingAndGlyphs">TetherUS</text>
<text x="116.5" y="11.8">·</text>
<text x="124.5" y="11.8" textLength="13" lengthAdjust="spacingAndGlyphs">1D</text>
<text x="140.5" y="11.8">·</text>
<text x="147.6" y="11.8" textLength="48" lengthAdjust="spacingAndGlyphs">BINANCE</text>
<text x="199" y="11.8">·</text>
<text x="206.6" y="11.8" textLength="68.6" lengthAdjust="spacingAndGlyphs">TradingView</text>
</g>
<circle cx="294" cy="7" r="6.3" fill="#26a69a" opacity="0.2"/>
<circle cx="294" cy="7" r="3" fill="#26a69a"/>
<g font-size="10.5">
<text x="313.9" y="11.6" textLength="6.4" lengthAdjust="spacingAndGlyphs" fill="#5d606b">O</text>
<text x="321.8" y="11.6" textLength="25.4" lengthAdjust="spacingAndGlyphs" fill="#ef5350">0.936</text>
<text x="352.7" y="11.6" textLength="5.9" lengthAdjust="spacingAndGlyphs" fill="#5d606b">H</text>
<text x="359.8" y="11.6" textLength="25.4" lengthAdjust="spacingAndGlyphs" fill="#ef5350">0.947</text>
<text x="390.8" y="11.6" textLength="4.3" lengthAdjust="spacingAndGlyphs" fill="#5d606b">L</text>
<text x="396.3" y="11.6" textLength="25.2" lengthAdjust="spacingAndGlyphs" fill="#ef5350">0.927</text>
<text x="427" y="11.6" textLength="5.3" lengthAdjust="spacingAndGlyphs" fill="#5d606b">C</text>
<text x="433.7" y="11.6" textLength="24.9" lengthAdjust="spacingAndGlyphs" fill="#ef5350">0.927</text>
<text x="464.2" y="11.6" textLength="29.8" lengthAdjust="spacingAndGlyphs" fill="#ef5350">−0.010</text>
<text x="499" y="11.6" textLength="37.7" lengthAdjust="spacingAndGlyphs" fill="#ef5350">(−1.07%)</text>
</g>
<rect x="2.5" y="18.5" width="24" height="16" rx="3" fill="#fff" stroke="#e3e4e9"/>
<path d="M7.2 25.5 L10 28 L12.8 25.5" fill="none" stroke="#2a2e39" stroke-width="1.25"/>
<text x="17.9" y="30.1" font-size="10" fill="#131722" opacity="0.8" textLength="4.8" lengthAdjust="spacingAndGlyphs">3</text>
</svg></body></html>
